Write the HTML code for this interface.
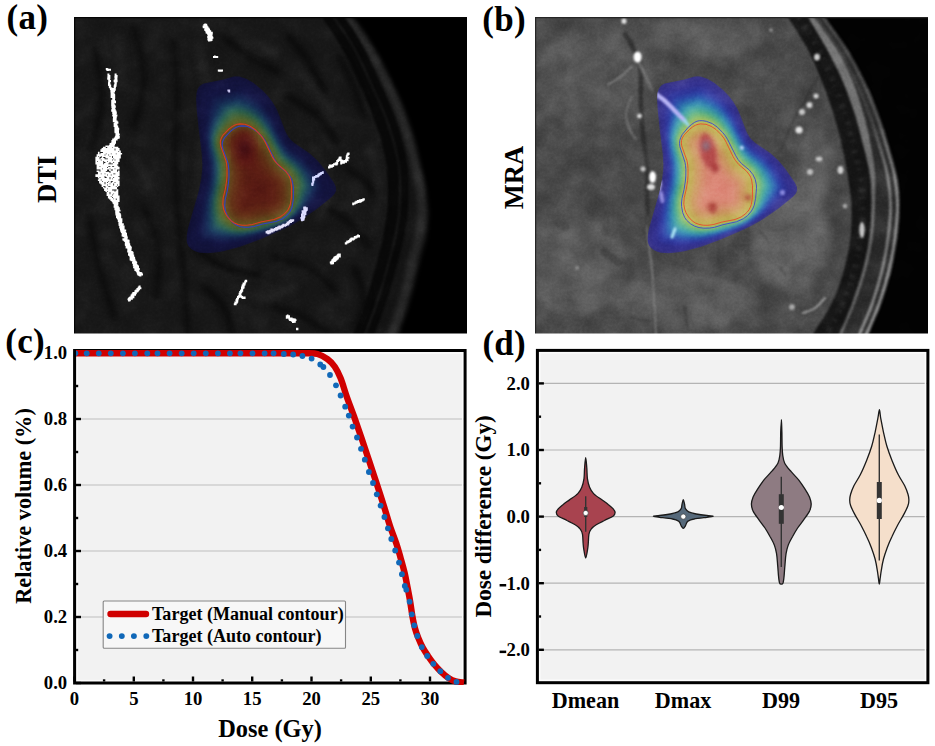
<!DOCTYPE html>
<html><head><meta charset="utf-8"><title>Figure</title>
<style>
html,body{margin:0;padding:0;background:#fff;}
body{width:935px;height:746px;overflow:hidden;position:relative;font-family:"Liberation Serif",serif;}
svg{position:absolute;left:0;top:0;display:block;}
.t{font-family:"Liberation Serif",serif;font-weight:bold;fill:#000;}
</style></head><body>
<svg width="935" height="746" viewBox="0 0 935 746">
<rect width="935" height="746" fill="#fff"/>
<defs>
<filter id="b05" color-interpolation-filters="sRGB" x="-10%" y="-10%" width="120%" height="120%"><feGaussianBlur stdDeviation="0.7"/></filter>
<filter id="b1" color-interpolation-filters="sRGB" x="-10%" y="-10%" width="120%" height="120%"><feGaussianBlur stdDeviation="1.1"/></filter>
<filter id="b2" color-interpolation-filters="sRGB" x="-10%" y="-10%" width="120%" height="120%"><feGaussianBlur stdDeviation="2.2"/></filter>
<filter id="b3" color-interpolation-filters="sRGB" x="-10%" y="-10%" width="120%" height="120%"><feGaussianBlur stdDeviation="3"/></filter>
<filter id="b4" color-interpolation-filters="sRGB" x="-10%" y="-10%" width="120%" height="120%"><feGaussianBlur stdDeviation="4"/></filter>
<filter id="awbl" color-interpolation-filters="sRGB" x="-10%" y="-10%" width="120%" height="120%"><feGaussianBlur stdDeviation="1.6"/></filter>
<filter id="bwbl" color-interpolation-filters="sRGB" x="-10%" y="-10%" width="120%" height="120%"><feGaussianBlur stdDeviation="1.6"/></filter>
<filter id="nzL" color-interpolation-filters="sRGB" x="0" y="0" width="100%" height="100%"><feTurbulence type="fractalNoise" baseFrequency="0.045" numOctaves="3" seed="11"/><feColorMatrix type="matrix" values="1.6 0 0 0 -0.3  1.6 0 0 0 -0.3  1.6 0 0 0 -0.3  0 0 0 0 1"/></filter>
<filter id="nzH" color-interpolation-filters="sRGB" x="0" y="0" width="100%" height="100%"><feTurbulence type="fractalNoise" baseFrequency="0.4" numOctaves="2" seed="5"/><feColorMatrix type="matrix" values="1.5 0 0 0 -0.25  1.5 0 0 0 -0.25  1.5 0 0 0 -0.25  0 0 0 0 1"/></filter>
<clipPath id="imclip"><rect x="0" y="0" width="393" height="316.5"/></clipPath>
</defs>
<g transform="translate(74,17)"><g clip-path="url(#imclip)">
<rect x="-2" y="-2" width="397" height="321" fill="#000"/>
<g filter="url(#b1)">
</g><g filter="url(#b2)">
<path d="M-10.0 -10.0L275.8 -3.0L290.9 21.5L303.7 43.0L316.6 68.7L327.3 92.3L338.0 120.0L347.0 150.0L352.5 175.0L355.0 197.0L352.5 221.0L346.0 243.6L340.0 269.4L333.0 293.5L323.0 322.0L-10.0 330.0Z" fill="#141414"/>
<path d="M271.0 -3.0C273.9 1.1 283.3 13.8 288.4 21.5C293.4 29.2 297.0 35.1 301.3 43.0C305.6 50.9 310.3 60.5 314.2 68.7C318.1 76.9 321.5 83.8 324.9 92.3C328.3 100.8 331.8 110.4 334.6 120.0C337.5 129.6 340.0 140.8 342.0 150.0C344.0 159.2 345.5 167.2 346.5 175.0C347.5 182.8 348.3 189.3 348.0 197.0C347.7 204.7 346.4 213.2 344.8 221.0C343.2 228.8 340.3 235.5 338.3 243.6C336.3 251.7 335.1 261.1 333.0 269.4C330.9 277.7 328.8 284.7 326.0 293.5C323.2 302.3 317.7 317.2 316.0 322.0" fill="none" stroke="#272727" stroke-width="9" />
</g><g filter="url(#b1)">
<path d="M255.5 -3.0C258.3 1.1 267.5 13.8 272.3 21.5C277.1 29.2 280.2 35.1 284.1 43.0C288.0 50.9 292.2 60.5 295.9 68.7C299.6 76.9 303.1 83.8 306.5 92.3C309.9 100.8 313.6 110.4 316.3 120.0C319.1 129.6 321.7 140.8 323.0 150.0C324.3 159.2 324.0 167.2 324.0 175.0C324.0 182.8 323.8 189.3 323.0 197.0C322.2 204.7 320.6 213.2 319.0 221.0C317.4 228.8 315.4 235.5 313.3 243.6C311.2 251.7 308.6 261.1 306.1 269.4C303.6 277.7 301.2 284.7 298.1 293.5C295.0 302.3 289.3 317.2 287.5 322.0" fill="none" stroke="#080808" stroke-width="21" />
<path d="M257.5 -3.0C260.3 1.1 269.5 13.8 274.3 21.5C279.1 29.2 282.2 35.1 286.1 43.0C290.0 50.9 294.2 60.5 297.9 68.7C301.6 76.9 305.1 83.8 308.5 92.3C311.9 100.8 315.6 110.4 318.3 120.0C321.1 129.6 323.7 140.8 325.0 150.0C326.3 159.2 326.0 167.2 326.0 175.0C326.0 182.8 325.8 189.3 325.0 197.0C324.2 204.7 322.6 213.2 321.0 221.0C319.4 228.8 317.4 235.5 315.3 243.6C313.2 251.7 310.6 261.1 308.1 269.4C305.6 277.7 303.2 284.7 300.1 293.5C297.0 302.3 291.3 317.2 289.5 322.0" fill="none" stroke="#161616" stroke-width="2" />
<path d="M-10.0 -10.0L245.5 -3.0L262.3 21.5L274.1 43.0L285.9 68.7L296.5 92.3L306.3 120.0L313.0 150.0L314.0 175.0L313.0 197.0L309.0 221.0L303.3 243.6L296.1 269.4L288.1 293.5L277.5 322.0L-10.0 330.0Z" fill="#181818"/>
</g>
<g filter="url(#b3)" fill="none" stroke="#0a0a0a" stroke-linecap="round">
<path d="M100.0 25.0C100.5 34.2 102.8 60.8 103.0 80.0C103.2 99.2 100.8 120.0 101.0 140.0C101.2 160.0 102.5 180.0 104.0 200.0C105.5 220.0 108.3 240.0 110.0 260.0C111.7 280.0 113.3 310.0 114.0 320.0" stroke-width="5"/>
<path d="M150.0 20.0C154.2 23.3 165.8 34.2 175.0 40.0C184.2 45.8 200.0 52.5 205.0 55.0" stroke-width="6"/>
<path d="M215.0 20.0C218.3 24.2 229.2 35.8 235.0 45.0C240.8 54.2 247.5 70.0 250.0 75.0" stroke-width="7"/>
<path d="M215.0 80.0C220.0 83.3 237.2 92.5 245.0 100.0C252.8 107.5 259.2 120.8 262.0 125.0" stroke-width="7"/>
<path d="M265.0 40.0C267.5 45.0 275.8 60.0 280.0 70.0C284.2 80.0 288.3 95.0 290.0 100.0" stroke-width="6"/>
<path d="M60.0 10.0C61.7 18.3 70.0 43.3 70.0 60.0C70.0 76.7 61.7 101.7 60.0 110.0" stroke-width="5"/>
<path d="M20.0 30.0C21.3 38.3 28.3 63.3 28.0 80.0C27.7 96.7 19.7 121.7 18.0 130.0" stroke-width="5"/>
<path d="M120.0 230.0C125.0 233.3 139.2 245.3 150.0 250.0C160.8 254.7 179.2 256.7 185.0 258.0" stroke-width="6"/>
<path d="M200.0 240.0C205.8 241.7 224.7 244.2 235.0 250.0C245.3 255.8 257.5 270.8 262.0 275.0" stroke-width="6"/>
<path d="M250.0 190.0C254.2 192.5 267.5 198.3 275.0 205.0C282.5 211.7 291.7 225.8 295.0 230.0" stroke-width="6"/>
<path d="M270.0 150.0C273.7 152.5 285.7 158.3 292.0 165.0C298.3 171.7 305.3 185.8 308.0 190.0" stroke-width="6"/>
<path d="M130.0 270.0C133.3 273.3 145.3 282.2 150.0 290.0C154.7 297.8 156.7 312.5 158.0 317.0" stroke-width="6"/>
<path d="M15.0 200.0C16.7 208.3 20.8 233.3 25.0 250.0C29.2 266.7 37.5 291.7 40.0 300.0" stroke-width="5"/>
<path d="M70.0 190.0C72.5 196.7 83.0 215.0 85.0 230.0C87.0 245.0 82.5 271.7 82.0 280.0" stroke-width="5"/>
<path d="M200.0 290.0C205.0 291.7 220.8 295.5 230.0 300.0C239.2 304.5 250.8 314.2 255.0 317.0" stroke-width="6"/>
<path d="M280.0 250.0C281.7 255.0 290.0 270.0 290.0 280.0C290.0 290.0 281.7 305.0 280.0 310.0" stroke-width="6"/>
</g>
<g filter="url(#b3)" fill="none" stroke="#202020" stroke-linecap="round">
<path d="M125.0 30.0C126.7 40.0 135.0 70.0 135.0 90.0C135.0 110.0 126.2 130.0 125.0 150.0C123.8 170.0 127.5 200.0 128.0 210.0" stroke-width="8"/>
<path d="M180.0 25.0C183.3 26.7 196.7 33.3 200.0 35.0" stroke-width="8"/>
<path d="M60.0 140.0C62.5 145.0 72.5 165.0 75.0 170.0" stroke-width="8"/>
<path d="M240.0 130.0C242.5 136.7 254.2 158.3 255.0 170.0C255.8 181.7 246.7 195.0 245.0 200.0" stroke-width="8"/>
<path d="M160.0 270.0C165.0 271.7 180.0 280.0 190.0 280.0C200.0 280.0 215.0 271.7 220.0 270.0" stroke-width="8"/>
<path d="M45.0 20.0C45.5 28.3 47.5 61.7 48.0 70.0" stroke-width="7"/>
<path d="M230.0 60.0C234.2 65.0 250.8 85.0 255.0 90.0" stroke-width="6"/>
<path d="M295.0 130.0C296.7 136.7 304.2 155.8 305.0 170.0C305.8 184.2 300.8 207.5 300.0 215.0" stroke-width="6"/>
</g>
<clipPath id="awclip"><path d="M133.2 236.3L125.5 235.7L121.6 234.5L118.6 233.0L116.0 231.0L114.3 229.0L113.1 226.2L112.6 223.5L112.7 218.8L113.7 212.2L124.9 173.0L127.1 161.8L128.0 153.5L128.3 147.2L127.6 137.0L124.5 111.6L122.5 91.5L122.0 82.2L122.5 75.8L123.5 72.2L124.8 70.0L126.8 68.0L129.6 66.5L149.2 62.4L159.4 59.5L162.5 59.2L165.5 59.4L172.4 61.8L179.3 65.8L188.2 73.0L194.2 79.3L198.2 84.5L202.3 91.2L204.8 96.8L211.8 115.0L214.8 120.2L217.2 123.1L220.2 125.7L235.3 136.0L243.5 143.4L250.8 152.3L260.0 165.8L261.9 169.8L262.2 173.5L260.9 176.5L257.8 180.0L243.0 192.0L226.5 203.3L217.2 208.6L209.2 212.6L185.5 222.8L165.8 229.9L149.6 234.2L142.2 235.5L133.2 236.3Z"/></clipPath>
<g clip-path="url(#awclip)"><g filter="url(#awbl)">
<path d="M134.8 237.5L126.0 237.3L119.0 235.0L113.2 230.2L111.2 225.2L111.2 218.8L112.2 212.2L123.4 175.2L127.2 154.0L126.9 137.0L121.2 92.0L121.0 75.5L123.7 68.8L129.8 64.7L148.8 61.2L158.0 58.2L165.8 58.0L172.0 60.0L180.0 64.5L188.5 71.5L195.3 78.5L200.0 85.0L204.0 92.2L212.3 114.2L215.1 119.2L222.0 125.9L238.5 137.0L246.3 144.8L261.3 165.0L263.5 170.0L263.5 174.8L262.3 177.2L258.2 181.5L248.2 189.5L228.0 203.3L216.2 209.8L191.8 221.1L172.0 228.8L150.5 235.3L134.8 237.5Z" fill="#12123a"/>
<path d="M139.2 232.5L130.0 232.3L123.0 230.3L118.5 226.9L117.4 224.8L116.9 222.2L117.2 214.5L118.4 207.2L127.9 169.8L130.1 154.2L130.2 146.2L127.3 119.8L126.1 101.5L126.4 80.2L128.1 74.0L129.5 72.2L131.2 71.2L160.0 64.0L164.5 63.8L171.2 65.8L178.0 69.5L186.8 76.2L192.8 82.2L196.5 87.0L200.4 93.2L210.1 116.0L213.3 121.5L216.2 125.0L220.0 128.4L233.4 137.8L240.9 144.8L247.0 152.5L252.4 160.8L257.2 169.0L257.9 172.8L257.0 175.0L254.1 178.5L241.1 190.5L226.6 201.5L214.3 208.8L205.5 213.0L186.2 221.0L171.2 226.3L151.5 231.3L139.2 232.5Z" fill="#13143f"/>
<path d="M147.8 227.8L139.2 227.7L129.5 226.4L124.5 224.1L123.4 222.8L122.8 220.8L122.8 213.5L124.2 201.5L131.4 168.2L133.1 155.0L133.2 147.5L129.8 118.8L130.1 102.0L131.1 91.8L132.7 81.0L133.5 78.5L134.8 77.0L138.7 75.5L159.5 70.2L163.8 69.7L169.9 71.5L177.5 75.5L185.3 81.2L191.6 87.5L198.6 97.8L207.9 117.8L211.4 123.8L218.0 131.1L230.8 140.4L237.5 147.0L242.9 154.2L246.9 161.0L251.1 169.2L251.7 171.8L250.6 174.2L244.6 181.5L234.4 192.2L224.7 200.5L214.2 207.2L201.8 213.1L176.0 222.5L163.0 225.8L147.8 227.8Z" fill="#131542"/>
<path d="M151.2 224.3L142.0 223.8L132.2 221.9L129.0 220.5L127.8 218.0L127.5 208.8L128.3 198.2L130.5 184.2L134.2 167.5L135.8 154.8L135.7 147.5L132.4 125.0L132.1 119.0L132.5 111.0L135.7 91.5L138.7 81.8L140.5 80.5L145.2 79.0L159.8 75.2L163.5 74.8L168.8 76.2L176.2 79.9L183.8 85.1L190.0 91.0L196.5 100.2L206.5 120.2L210.5 126.8L216.1 133.2L228.5 142.6L234.8 149.0L241.6 159.5L245.4 167.5L246.3 171.0L245.6 173.0L240.9 180.0L230.9 192.2L222.9 199.8L213.4 206.2L201.8 211.7L177.2 220.2L164.0 223.2L151.2 224.3Z" fill="#151e4b"/>
<path d="M161.8 221.5L147.0 221.3L140.2 220.0L133.2 217.8L132.0 216.5L131.5 214.8L130.9 203.0L131.9 189.5L136.2 168.2L137.8 156.0L137.8 147.8L134.5 129.8L133.9 120.8L134.9 110.2L137.3 99.8L140.7 88.8L143.0 84.4L151.2 81.4L162.8 78.9L169.0 80.4L177.5 84.6L184.5 89.7L189.8 95.0L196.5 104.9L205.4 122.2L209.8 129.3L214.6 135.0L226.5 144.2L232.3 150.2L238.2 159.8L241.5 167.0L242.2 170.0L241.4 172.8L237.2 180.0L229.4 191.0L222.3 198.5L214.3 204.5L203.5 209.9L182.0 217.3L170.0 220.4L161.8 221.5Z" fill="#162853"/>
<path d="M161.8 219.5L155.5 219.3L148.0 218.4L141.2 216.5L136.6 214.5L135.6 213.2L135.0 211.2L133.9 198.2L134.8 185.5L138.4 168.0L139.9 155.2L139.7 147.0L136.7 132.5L135.8 126.0L135.8 118.8L137.3 110.2L141.7 97.2L146.1 88.0L147.9 86.8L151.8 85.4L162.5 82.9L168.5 84.3L176.5 87.9L183.5 92.8L188.8 98.0L196.5 109.3L204.7 125.0L210.0 133.2L214.0 137.5L225.4 146.5L231.0 153.0L235.6 161.5L238.3 169.5L237.6 172.2L233.6 180.2L227.1 190.8L221.1 197.8L213.4 203.8L202.8 209.0L181.2 216.1L169.8 218.7L161.8 219.5Z" fill="#193b5c"/>
<path d="M163.0 217.5L157.0 217.1L150.2 215.8L144.8 214.0L139.8 211.5L138.6 209.5L137.6 205.0L136.6 194.0L137.3 184.2L141.1 165.0L142.1 154.5L141.7 146.5L137.6 127.8L137.4 121.0L138.2 115.9L139.9 110.0L143.8 101.2L149.2 91.5L153.0 89.1L162.2 87.0L168.0 88.2L175.8 91.3L182.2 95.6L187.8 100.9L195.4 111.5L203.6 127.0L208.8 135.2L212.5 139.2L222.5 147.2L228.2 153.8L232.4 162.0L234.5 169.2L233.9 172.0L229.6 182.2L224.9 190.8L219.7 197.2L212.6 203.0L202.2 208.1L180.8 214.8L171.0 216.8L163.0 217.5Z" fill="#204d5b"/>
<path d="M168.2 215.5L161.5 215.5L155.2 214.4L149.6 212.5L143.4 209.2L142.1 207.8L141.1 205.2L139.2 194.0L139.5 184.0L143.4 164.2L144.2 153.5L143.6 146.0L139.3 128.5L139.1 123.5L139.5 119.0L142.8 109.9L146.8 102.5L151.2 96.0L154.9 92.8L161.5 91.1L167.8 92.0L174.8 94.5L181.5 98.7L186.8 103.8L194.0 113.2L207.3 137.0L210.8 140.8L220.0 148.2L225.2 154.3L228.9 161.2L230.9 168.5L230.5 171.2L227.1 181.5L223.4 189.8L218.8 196.2L213.0 201.4L207.2 204.8L200.2 207.7L179.2 213.8L168.2 215.5Z" fill="#2a6050"/>
<path d="M169.2 213.8L163.0 213.6L157.2 212.5L152.2 210.5L146.2 206.8L144.6 204.8L143.2 200.8L141.6 191.5L141.8 183.2L145.5 164.0L146.2 153.0L145.6 145.5L141.0 128.8L141.1 120.5L143.7 113.2L150.0 103.7L156.2 97.0L158.5 95.7L161.2 95.2L167.5 95.8L174.0 97.8L180.5 101.5L186.0 106.6L193.6 116.5L205.9 138.8L209.3 142.5L217.9 149.5L222.7 155.2L225.7 161.2L227.5 168.0L224.6 181.5L221.7 189.2L217.7 195.5L212.4 200.5L207.2 203.7L200.2 206.5L190.5 208.8L179.0 212.4L169.2 213.8Z" fill="#3d643f"/>
<path d="M171.2 212.0L165.2 212.0L159.5 210.8L154.5 208.7L149.4 205.0L147.4 202.8L145.5 198.5L143.8 189.5L144.4 180.5L147.8 163.0L148.3 152.5L147.5 145.0L142.7 128.8L142.7 121.5L145.2 115.1L151.2 107.0L157.5 101.2L160.0 99.8L162.5 99.2L168.5 99.6L174.8 101.6L180.2 104.8L186.2 110.4L192.7 118.8L204.2 140.3L207.8 144.2L216.0 151.0L220.0 156.0L222.7 161.5L224.1 167.5L222.3 181.0L220.1 188.5L216.8 194.5L212.2 199.2L207.8 202.3L200.5 205.3L190.0 207.6L179.0 211.0L171.2 212.0Z" fill="#4f6530"/>
<path d="M179.0 209.5L168.2 210.4L163.5 209.8L159.0 208.3L155.0 206.0L150.9 202.2L149.1 199.5L147.2 194.8L146.1 188.8L146.5 180.5L149.9 163.2L150.4 152.0L149.5 144.5L144.4 129.0L144.3 122.5L146.9 116.5L152.8 109.5L158.8 104.7L164.0 102.9L170.8 103.5L176.8 105.8L182.0 109.5L187.4 115.0L192.0 121.5L202.6 141.8L206.0 145.7L214.0 152.4L217.4 156.8L219.7 161.5L220.9 167.0L220.1 180.5L218.7 187.5L216.0 193.2L212.1 197.8L207.8 201.0L200.9 204.0L187.5 206.9L179.0 209.5Z" fill="#616125"/>
<path d="M171.5 208.8L167.2 208.6L163.0 207.7L159.2 206.0L156.5 204.0L152.9 200.2L150.4 196.0L149.1 192.2L148.2 187.2L148.7 180.8L152.0 163.8L152.4 151.5L151.4 143.8L146.2 129.0L146.0 123.2L148.6 117.8L154.5 111.5L160.2 107.5L165.8 106.2L171.0 106.6L176.5 108.7L181.5 112.2L186.8 117.4L191.5 124.8L200.9 143.2L204.2 147.2L212.2 154.0L215.1 157.8L217.3 163.0L218.2 169.0L218.0 181.0L216.7 187.8L214.2 193.2L210.0 197.8L205.9 200.5L199.7 203.0L187.2 205.4L178.2 208.1L171.5 208.8Z" fill="#64551f"/>
<path d="M174.8 206.5L170.0 206.7L165.8 206.1L162.2 204.9L159.0 203.0L155.4 199.2L152.9 195.2L151.6 192.0L150.6 187.2L151.0 181.2L154.4 164.0L154.7 151.0L153.6 143.2L148.3 128.5L148.1 124.0L150.3 119.2L155.4 114.0L160.8 110.3L165.5 109.0L170.2 109.2L175.4 111.0L180.0 114.1L184.8 118.8L189.8 126.2L199.1 144.8L202.2 148.6L210.3 155.5L212.8 158.7L214.5 162.8L215.5 167.8L215.7 180.0L214.9 186.5L212.9 191.5L209.5 195.8L205.8 198.5L200.0 201.0L189.2 202.9L174.8 206.5Z" fill="#64481d"/>
<path d="M173.5 203.8L166.2 203.2L163.2 202.2L160.6 200.5L157.6 197.2L155.4 193.8L153.5 186.8L153.9 181.5L157.2 164.5L157.6 150.5L156.6 143.2L151.4 129.0L151.0 124.8L152.8 120.8L157.2 116.2L162.0 113.0L166.0 111.9L170.0 112.2L174.3 113.8L178.5 116.6L182.9 121.0L187.3 127.8L196.7 146.5L199.8 150.2L207.8 157.2L210.3 160.2L211.9 164.2L212.7 169.5L212.9 180.0L212.0 186.2L210.2 190.5L207.0 194.2L203.6 196.5L198.8 198.4L189.0 200.1L178.0 203.1L173.5 203.8Z" fill="#653c1a"/>
<path d="M173.5 200.5L167.2 200.1L162.7 198.0L158.4 192.5L156.8 186.8L157.0 182.2L160.4 164.8L160.8 150.2L159.7 142.2L154.8 128.8L154.3 125.5L155.5 122.6L159.2 118.8L163.0 116.1L166.2 115.2L169.5 115.4L173.2 116.9L177.0 119.6L180.6 123.2L184.6 129.5L194.0 148.2L197.4 152.5L205.2 159.3L207.3 161.8L208.8 165.0L209.5 169.5L209.6 179.2L209.0 184.8L207.6 188.5L204.9 191.8L201.9 193.8L197.8 195.3L188.2 196.9L173.5 200.5Z" fill="#642f17"/>
<path d="M174.5 195.5L169.8 195.6L166.2 194.4L163.2 191.0L161.7 186.8L161.9 183.0L163.8 174.5L165.3 165.0L165.6 150.0L164.5 141.2L159.6 126.5L160.2 124.8L162.1 122.8L164.8 120.8L166.8 120.2L169.0 120.4L171.5 121.6L177.0 126.6L180.7 132.5L189.2 149.9L193.8 155.7L202.7 163.8L203.9 166.0L204.6 169.2L204.5 182.0L203.6 185.5L201.7 188.0L196.2 190.7L187.0 192.2L174.5 195.5Z" fill="#602415"/>
<path d="M173.0 190.8L170.5 190.7L168.8 190.0L167.2 188.1L166.6 185.8L169.8 168.0L170.5 159.8L170.5 149.5L169.9 143.2L165.3 128.2L165.8 126.5L167.5 125.6L170.2 126.7L173.7 130.2L185.2 152.5L190.0 158.8L198.5 166.5L199.4 168.2L199.8 170.8L199.8 180.8L199.1 183.2L197.8 184.8L194.5 186.1L186.2 187.4L173.0 190.8Z" fill="#5c1e14"/>
<path d="M175.2 185.3L172.8 185.2L172.0 183.5L174.8 167.2L175.6 152.0L176.5 149.2L178.0 150.4L185.8 161.4L194.1 169.2L195.0 171.8L195.1 177.2L194.6 180.0L193.0 181.3L181.5 183.5L175.2 185.3Z" fill="#5a1c13"/>
<path d="M179.8 179.8L177.8 179.4L177.3 177.5L179.2 164.5L179.8 163.0L180.5 162.5L182.0 163.3L190.0 170.8L191.0 172.5L191.2 174.8L190.8 176.7L189.6 177.8L179.8 179.8Z" fill="#581a13"/>
<path d="M183.8 175.5L182.0 175.3L181.3 174.0L181.8 171.0L183.0 169.8L185.3 171.0L187.0 173.2L186.3 174.8L183.8 175.5Z" fill="#561812"/>
</g></g>
<g clip-path="url(#awclip)"><g filter="url(#b4)">
<ellipse cx="170.6" cy="131" rx="11" ry="19" fill="#5c1414" opacity="0.75"/>
<ellipse cx="170.6" cy="131.6" rx="5" ry="9" fill="#360a10"/>
</g></g>
<rect x="0" y="0" width="393" height="317" filter="url(#nzL)" style="mix-blend-mode:soft-light" opacity="0.13"/>
<rect x="0" y="0" width="393" height="317" filter="url(#nzH)" style="mix-blend-mode:soft-light" opacity="0.06"/>
<path d="M172.8 208.3L168.2 208.2L164.0 207.4L160.4 206.0L157.2 203.9L153.6 200.0L151.0 195.8L149.7 192.2L148.8 187.2L149.2 180.8L151.3 172.2L152.6 163.8L153.0 158.8L153.0 151.5L152.6 147.0L152.0 143.8L146.7 128.8L146.3 126.0L146.5 123.4L147.3 121.0L149.0 118.1L154.8 112.1L158.0 109.6L160.5 108.2L163.0 107.3L165.8 106.9L171.0 107.3L176.2 109.3L181.0 112.5L186.3 117.8L188.8 121.1L191.2 125.2L198.2 139.8L200.5 143.6L203.8 147.5L211.6 154.2L214.5 158.0L215.7 160.2L216.6 163.0L217.5 168.8L217.4 180.8L216.3 187.5L215.4 190.0L214.0 192.8L212.3 195.0L210.0 197.2L206.1 200.0L200.0 202.5L186.8 205.1L178.2 207.6L172.8 208.3Z" fill="none" stroke="#3040c8" stroke-width="1.05" transform="translate(1.9,2.0)"/>
<path d="M172.8 208.3L168.2 208.2L164.0 207.4L160.4 206.0L157.2 203.9L153.6 200.0L151.0 195.8L149.7 192.2L148.8 187.2L149.2 180.8L151.3 172.2L152.6 163.8L153.0 158.8L153.0 151.5L152.6 147.0L152.0 143.8L146.7 128.8L146.3 126.0L146.5 123.4L147.3 121.0L149.0 118.1L154.8 112.1L158.0 109.6L160.5 108.2L163.0 107.3L165.8 106.9L171.0 107.3L176.2 109.3L181.0 112.5L186.3 117.8L188.8 121.1L191.2 125.2L198.2 139.8L200.5 143.6L203.8 147.5L211.6 154.2L214.5 158.0L215.7 160.2L216.6 163.0L217.5 168.8L217.4 180.8L216.3 187.5L215.4 190.0L214.0 192.8L212.3 195.0L210.0 197.2L206.1 200.0L200.0 202.5L186.8 205.1L178.2 207.6L172.8 208.3Z" fill="none" stroke="#dc3c1e" stroke-width="1.05"/>
<g filter="url(#b05)">
<path d="M129.4 7.0h2.0v2.0h-2.0zM129.6 7.2h1.7v1.7h-1.7zM130.3 6.4h1.7v1.7h-1.7zM129.6 7.2h1.7v1.7h-1.7zM128.6 8.6h2.0v2.0h-2.0zM130.8 6.8h2.4v2.4h-2.4zM129.4 7.8h2.0v2.0h-2.0zM130.8 6.8h2.4v2.4h-2.4zM131.2 8.0h1.7v1.7h-1.7zM128.8 9.6h1.7v1.7h-1.7zM129.2 8.4h2.4v2.4h-2.4zM131.0 7.8h2.0v2.0h-2.0zM131.8 8.6h2.0v2.0h-2.0zM131.0 9.4h2.0v2.0h-2.0zM130.2 9.4h2.0v2.0h-2.0zM130.2 9.4h2.0v2.0h-2.0zM132.6 9.4h2.0v2.0h-2.0zM131.2 10.3h1.7v1.7h-1.7zM131.0 10.2h2.0v2.0h-2.0zM130.8 10.0h2.4v2.4h-2.4zM130.8 11.6h2.4v2.4h-2.4zM130.8 10.8h2.4v2.4h-2.4zM131.8 11.0h2.0v2.0h-2.0zM130.2 11.8h2.0v2.0h-2.0zM133.4 11.0h2.0v2.0h-2.0zM131.8 11.8h2.0v2.0h-2.0zM131.0 12.6h2.0v2.0h-2.0zM132.0 12.8h1.7v1.7h-1.7zM133.2 10.8h2.4v2.4h-2.4zM132.6 11.0h2.0v2.0h-2.0zM133.2 10.8h2.4v2.4h-2.4zM132.8 12.0h1.7v1.7h-1.7zM131.8 13.4h2.0v2.0h-2.0zM133.4 12.6h2.0v2.0h-2.0zM132.4 13.2h2.4v2.4h-2.4zM134.3 12.0h1.7v1.7h-1.7zM131.6 14.0h2.4v2.4h-2.4zM132.8 14.3h1.7v1.7h-1.7zM134.2 12.6h2.0v2.0h-2.0zM132.4 14.0h2.4v2.4h-2.4zM134.0 14.0h2.4v2.4h-2.4zM132.6 15.0h2.0v2.0h-2.0zM134.8 13.2h2.4v2.4h-2.4zM134.3 14.3h1.7v1.7h-1.7zM134.2 15.0h2.0v2.0h-2.0zM133.4 15.8h2.0v2.0h-2.0zM133.2 15.6h2.4v2.4h-2.4zM134.8 14.8h2.4v2.4h-2.4zM136.4 14.8h2.4v2.4h-2.4zM135.0 15.8h2.0v2.0h-2.0zM134.0 16.4h2.4v2.4h-2.4zM134.2 16.6h2.0v2.0h-2.0zM134.2 15.8h2.0v2.0h-2.0zM134.0 15.6h2.4v2.4h-2.4zM133.4 15.8h2.0v2.0h-2.0zM136.6 15.8h2.0v2.0h-2.0zM135.8 16.6h2.0v2.0h-2.0zM136.6 16.6h2.0v2.0h-2.0zM136.0 16.8h1.7v1.7h-1.7zM136.6 16.6h2.0v2.0h-2.0zM135.0 18.2h2.0v2.0h-2.0zM133.6 18.3h1.7v1.7h-1.7zM134.8 18.0h2.4v2.4h-2.4zM135.6 18.0h2.4v2.4h-2.4zM136.4 18.8h2.4v2.4h-2.4zM136.8 19.1h1.7v1.7h-1.7zM133.2 18.8h2.4v2.4h-2.4zM136.6 19.0h2.0v2.0h-2.0zM135.2 19.9h1.7v1.7h-1.7zM137.4 19.8h2.0v2.0h-2.0zM135.0 19.8h2.0v2.0h-2.0zM135.2 19.9h1.7v1.7h-1.7zM134.0 21.2h2.4v2.4h-2.4zM136.6 20.6h2.0v2.0h-2.0zM133.4 21.4h2.0v2.0h-2.0zM136.0 20.8h1.7v1.7h-1.7zM134.0 22.0h2.4v2.4h-2.4zM135.8 22.2h2.0v2.0h-2.0zM136.8 22.3h1.7v1.7h-1.7zM135.0 22.2h2.0v2.0h-2.0zM139.0 39.0h2.0v2.0h-2.0zM139.0 39.0h2.0v2.0h-2.0zM139.8 39.0h2.0v2.0h-2.0zM140.0 38.4h1.7v1.7h-1.7zM141.4 39.0h2.0v2.0h-2.0zM141.6 39.1h1.7v1.7h-1.7zM142.2 39.0h2.0v2.0h-2.0zM142.2 39.0h2.0v2.0h-2.0zM143.8 52.6h2.0v2.0h-2.0zM143.8 52.6h2.0v2.0h-2.0zM144.6 52.6h2.0v2.0h-2.0zM144.4 52.4h2.4v2.4h-2.4zM146.2 52.6h2.0v2.0h-2.0zM146.0 52.4h2.4v2.4h-2.4zM147.2 52.8h1.7v1.7h-1.7zM147.0 52.6h2.0v2.0h-2.0zM31.9 51.1h1.7v1.7h-1.7zM31.8 51.0h2.0v2.0h-2.0zM32.4 51.6h2.4v2.4h-2.4zM32.8 51.9h1.7v1.7h-1.7zM34.2 51.8h2.0v2.0h-2.0zM34.4 51.9h1.7v1.7h-1.7zM35.1 51.9h1.7v1.7h-1.7zM35.0 51.8h2.0v2.0h-2.0zM33.4 56.6h2.0v2.0h-2.0zM33.4 56.6h2.0v2.0h-2.0zM34.0 58.0h2.4v2.4h-2.4zM33.5 58.4h1.7v1.7h-1.7zM33.4 59.0h2.0v2.0h-2.0zM33.5 59.1h1.7v1.7h-1.7zM34.0 59.6h2.4v2.4h-2.4zM33.4 59.8h2.0v2.0h-2.0zM33.2 60.4h2.4v2.4h-2.4zM33.4 60.6h2.0v2.0h-2.0zM34.2 61.4h2.0v2.0h-2.0zM34.4 61.5h1.7v1.7h-1.7zM34.2 62.2h2.0v2.0h-2.0zM34.2 62.2h2.0v2.0h-2.0zM34.2 63.0h2.0v2.0h-2.0zM35.0 63.0h2.0v2.0h-2.0zM34.2 64.6h2.0v2.0h-2.0zM34.2 64.6h2.0v2.0h-2.0zM34.0 65.2h2.4v2.4h-2.4zM34.4 65.6h1.7v1.7h-1.7zM34.2 66.2h2.0v2.0h-2.0zM34.0 66.0h2.4v2.4h-2.4zM34.2 67.0h2.0v2.0h-2.0zM34.4 67.2h1.7v1.7h-1.7zM34.2 67.0h2.0v2.0h-2.0zM34.2 67.0h2.0v2.0h-2.0zM34.8 67.6h2.4v2.4h-2.4zM35.1 68.0h1.7v1.7h-1.7zM35.0 68.6h2.0v2.0h-2.0zM34.8 68.4h2.4v2.4h-2.4zM35.1 69.6h1.7v1.7h-1.7zM35.1 69.6h1.7v1.7h-1.7zM35.8 70.2h2.0v2.0h-2.0zM36.8 70.4h1.7v1.7h-1.7zM36.8 71.2h1.7v1.7h-1.7zM35.9 71.2h1.7v1.7h-1.7zM36.6 71.8h2.0v2.0h-2.0zM36.4 72.4h2.4v2.4h-2.4zM36.4 73.2h2.4v2.4h-2.4zM36.6 73.4h2.0v2.0h-2.0zM40.6 56.6h2.0v2.0h-2.0zM40.6 56.6h2.0v2.0h-2.0zM40.6 58.2h2.0v2.0h-2.0zM41.2 58.0h2.4v2.4h-2.4zM40.8 59.1h1.7v1.7h-1.7zM40.4 58.8h2.4v2.4h-2.4zM41.4 59.8h2.0v2.0h-2.0zM40.6 59.8h2.0v2.0h-2.0zM40.6 60.6h2.0v2.0h-2.0zM41.4 60.6h2.0v2.0h-2.0zM40.6 61.4h2.0v2.0h-2.0zM40.8 61.5h1.7v1.7h-1.7zM40.4 62.0h2.4v2.4h-2.4zM41.4 62.2h2.0v2.0h-2.0zM41.2 62.8h2.4v2.4h-2.4zM39.6 62.8h2.4v2.4h-2.4zM40.6 64.6h2.0v2.0h-2.0zM40.8 64.8h1.7v1.7h-1.7zM40.8 65.6h1.7v1.7h-1.7zM40.4 65.2h2.4v2.4h-2.4zM40.8 66.4h1.7v1.7h-1.7zM40.6 66.2h2.0v2.0h-2.0zM40.8 67.2h1.7v1.7h-1.7zM40.6 67.0h2.0v2.0h-2.0zM39.9 67.2h1.7v1.7h-1.7zM40.6 67.0h2.0v2.0h-2.0zM40.6 67.8h2.0v2.0h-2.0zM40.6 67.8h2.0v2.0h-2.0zM39.8 68.6h2.0v2.0h-2.0zM39.6 68.4h2.4v2.4h-2.4zM39.9 69.6h1.7v1.7h-1.7zM39.8 69.4h2.0v2.0h-2.0zM39.9 70.4h1.7v1.7h-1.7zM39.9 70.4h1.7v1.7h-1.7zM39.0 71.0h2.0v2.0h-2.0zM39.8 71.8h2.0v2.0h-2.0zM39.1 72.8h1.7v1.7h-1.7zM39.0 71.8h2.0v2.0h-2.0zM38.0 72.4h2.4v2.4h-2.4zM38.2 72.6h2.0v2.0h-2.0zM37.5 71.2h1.7v1.7h-1.7zM37.4 71.0h2.0v2.0h-2.0zM36.6 71.0h2.0v2.0h-2.0zM38.2 71.8h2.0v2.0h-2.0zM38.2 71.8h2.0v2.0h-2.0zM37.4 71.8h2.0v2.0h-2.0zM38.2 72.6h2.0v2.0h-2.0zM38.4 72.8h1.7v1.7h-1.7zM36.8 72.8h1.7v1.7h-1.7zM39.0 73.4h2.0v2.0h-2.0zM37.4 73.4h2.0v2.0h-2.0zM36.8 73.6h1.7v1.7h-1.7zM37.2 74.8h2.4v2.4h-2.4zM37.2 74.8h2.4v2.4h-2.4zM36.6 75.0h2.0v2.0h-2.0zM37.4 75.8h2.0v2.0h-2.0zM38.2 75.8h2.0v2.0h-2.0zM38.2 75.8h2.0v2.0h-2.0zM36.6 76.6h2.0v2.0h-2.0zM39.0 76.6h2.0v2.0h-2.0zM38.4 76.8h1.7v1.7h-1.7zM38.8 77.2h2.4v2.4h-2.4zM36.6 77.4h2.0v2.0h-2.0zM37.4 77.4h2.0v2.0h-2.0zM39.0 78.2h2.0v2.0h-2.0zM38.8 78.0h2.4v2.4h-2.4zM39.0 78.2h2.0v2.0h-2.0zM36.6 79.0h2.0v2.0h-2.0zM39.0 79.0h2.0v2.0h-2.0zM39.0 79.0h2.0v2.0h-2.0zM38.8 79.6h2.4v2.4h-2.4zM39.0 79.8h2.0v2.0h-2.0zM38.2 79.8h2.0v2.0h-2.0zM39.1 80.8h1.7v1.7h-1.7zM39.1 80.8h1.7v1.7h-1.7zM39.1 80.8h1.7v1.7h-1.7zM38.2 81.4h2.0v2.0h-2.0zM39.0 81.4h2.0v2.0h-2.0zM39.0 81.4h2.0v2.0h-2.0zM37.2 82.8h2.4v2.4h-2.4zM37.2 82.8h2.4v2.4h-2.4zM39.0 83.0h2.0v2.0h-2.0zM39.6 83.6h2.4v2.4h-2.4zM37.4 83.8h2.0v2.0h-2.0zM37.5 84.0h1.7v1.7h-1.7zM37.4 84.6h2.0v2.0h-2.0zM39.9 84.8h1.7v1.7h-1.7zM39.0 84.6h2.0v2.0h-2.0zM37.2 85.2h2.4v2.4h-2.4zM37.5 85.6h1.7v1.7h-1.7zM38.2 85.4h2.0v2.0h-2.0zM38.4 86.4h1.7v1.7h-1.7zM38.4 86.4h1.7v1.7h-1.7zM37.5 86.4h1.7v1.7h-1.7zM38.4 87.2h1.7v1.7h-1.7zM37.2 86.8h2.4v2.4h-2.4zM39.1 87.2h1.7v1.7h-1.7zM37.4 87.8h2.0v2.0h-2.0zM38.2 87.8h2.0v2.0h-2.0zM38.8 87.6h2.4v2.4h-2.4zM38.0 88.4h2.4v2.4h-2.4zM39.8 88.6h2.0v2.0h-2.0zM37.4 89.4h2.0v2.0h-2.0zM39.8 88.6h2.0v2.0h-2.0zM39.0 88.6h2.0v2.0h-2.0zM38.2 89.4h2.0v2.0h-2.0zM39.9 89.6h1.7v1.7h-1.7zM39.1 90.4h1.7v1.7h-1.7zM38.0 90.0h2.4v2.4h-2.4zM39.0 91.0h2.0v2.0h-2.0zM38.8 90.8h2.4v2.4h-2.4zM38.2 91.0h2.0v2.0h-2.0zM39.1 92.0h1.7v1.7h-1.7zM37.5 92.0h1.7v1.7h-1.7zM39.9 92.0h1.7v1.7h-1.7zM38.0 92.4h2.4v2.4h-2.4zM37.2 92.4h2.4v2.4h-2.4zM39.8 92.6h2.0v2.0h-2.0zM40.8 93.6h1.7v1.7h-1.7zM39.8 93.4h2.0v2.0h-2.0zM38.2 94.2h2.0v2.0h-2.0zM39.0 95.0h2.0v2.0h-2.0zM38.2 95.0h2.0v2.0h-2.0zM39.6 94.0h2.4v2.4h-2.4zM39.8 95.8h2.0v2.0h-2.0zM40.4 94.8h2.4v2.4h-2.4zM38.8 95.6h2.4v2.4h-2.4zM39.8 96.6h2.0v2.0h-2.0zM39.6 96.4h2.4v2.4h-2.4zM39.8 96.6h2.0v2.0h-2.0zM41.4 97.4h2.0v2.0h-2.0zM39.1 97.6h1.7v1.7h-1.7zM38.2 97.4h2.0v2.0h-2.0zM39.0 98.2h2.0v2.0h-2.0zM40.8 98.4h1.7v1.7h-1.7zM39.9 98.4h1.7v1.7h-1.7zM40.4 98.8h2.4v2.4h-2.4zM39.1 100.0h1.7v1.7h-1.7zM40.8 99.2h1.7v1.7h-1.7zM39.0 100.6h2.0v2.0h-2.0zM39.8 100.6h2.0v2.0h-2.0zM40.6 99.8h2.0v2.0h-2.0zM40.6 101.4h2.0v2.0h-2.0zM40.6 101.4h2.0v2.0h-2.0zM38.8 101.2h2.4v2.4h-2.4zM38.8 102.0h2.4v2.4h-2.4zM39.0 102.2h2.0v2.0h-2.0zM39.9 102.4h1.7v1.7h-1.7zM38.8 102.8h2.4v2.4h-2.4zM40.6 103.0h2.0v2.0h-2.0zM39.8 103.0h2.0v2.0h-2.0zM40.6 103.8h2.0v2.0h-2.0zM41.2 103.6h2.4v2.4h-2.4zM40.6 103.8h2.0v2.0h-2.0zM41.4 103.8h2.0v2.0h-2.0zM40.6 103.8h2.0v2.0h-2.0zM41.2 103.6h2.4v2.4h-2.4zM41.4 104.6h2.0v2.0h-2.0zM42.0 104.4h2.4v2.4h-2.4zM40.4 104.4h2.4v2.4h-2.4zM39.6 106.0h2.4v2.4h-2.4zM40.6 106.2h2.0v2.0h-2.0zM41.4 105.4h2.0v2.0h-2.0zM41.5 107.2h1.7v1.7h-1.7zM41.4 107.0h2.0v2.0h-2.0zM41.4 107.0h2.0v2.0h-2.0zM39.6 107.6h2.4v2.4h-2.4zM41.4 107.8h2.0v2.0h-2.0zM41.4 107.8h2.0v2.0h-2.0zM40.4 108.4h2.4v2.4h-2.4zM42.2 108.6h2.0v2.0h-2.0zM42.2 108.6h2.0v2.0h-2.0zM42.2 109.4h2.0v2.0h-2.0zM41.2 109.2h2.4v2.4h-2.4zM41.4 109.4h2.0v2.0h-2.0zM40.8 111.2h1.7v1.7h-1.7zM42.0 110.0h2.4v2.4h-2.4zM40.4 110.8h2.4v2.4h-2.4zM40.4 111.6h2.4v2.4h-2.4zM42.8 110.8h2.4v2.4h-2.4zM40.4 111.6h2.4v2.4h-2.4zM40.6 112.6h2.0v2.0h-2.0zM41.4 112.6h2.0v2.0h-2.0zM43.1 112.8h1.7v1.7h-1.7zM40.4 113.2h2.4v2.4h-2.4zM43.1 113.6h1.7v1.7h-1.7zM43.0 113.4h2.0v2.0h-2.0zM43.1 114.4h1.7v1.7h-1.7zM41.4 114.2h2.0v2.0h-2.0zM40.6 114.2h2.0v2.0h-2.0zM42.0 114.8h2.4v2.4h-2.4zM41.5 115.2h1.7v1.7h-1.7zM43.0 115.0h2.0v2.0h-2.0zM42.2 116.6h2.0v2.0h-2.0zM43.0 115.8h2.0v2.0h-2.0zM41.5 116.8h1.7v1.7h-1.7zM43.8 116.6h2.0v2.0h-2.0zM41.4 117.4h2.0v2.0h-2.0zM41.4 117.4h2.0v2.0h-2.0zM43.0 118.2h2.0v2.0h-2.0zM42.4 118.4h1.7v1.7h-1.7zM41.4 118.2h2.0v2.0h-2.0zM43.8 119.0h2.0v2.0h-2.0zM42.8 118.8h2.4v2.4h-2.4zM43.8 119.0h2.0v2.0h-2.0zM42.2 119.8h2.0v2.0h-2.0zM43.9 120.0h1.7v1.7h-1.7zM42.0 119.6h2.4v2.4h-2.4zM41.2 118.8h2.4v2.4h-2.4zM41.4 119.0h2.0v2.0h-2.0zM40.8 119.2h1.7v1.7h-1.7zM41.4 120.6h2.0v2.0h-2.0zM41.4 119.8h2.0v2.0h-2.0zM41.4 120.6h2.0v2.0h-2.0zM40.6 121.4h2.0v2.0h-2.0zM41.2 121.2h2.4v2.4h-2.4zM39.8 120.6h2.0v2.0h-2.0zM39.9 121.6h1.7v1.7h-1.7zM38.2 121.4h2.0v2.0h-2.0zM38.4 121.6h1.7v1.7h-1.7zM39.8 123.0h2.0v2.0h-2.0zM39.9 123.2h1.7v1.7h-1.7zM39.6 122.8h2.4v2.4h-2.4zM37.4 123.0h2.0v2.0h-2.0zM38.4 123.2h1.7v1.7h-1.7zM37.4 123.0h2.0v2.0h-2.0zM38.8 124.4h2.4v2.4h-2.4zM39.6 124.4h2.4v2.4h-2.4zM37.4 123.8h2.0v2.0h-2.0zM38.4 125.6h1.7v1.7h-1.7zM39.0 126.2h2.0v2.0h-2.0zM38.8 125.2h2.4v2.4h-2.4zM36.8 125.6h1.7v1.7h-1.7zM37.4 126.2h2.0v2.0h-2.0zM37.4 126.2h2.0v2.0h-2.0zM35.6 126.0h2.4v2.4h-2.4zM38.0 127.6h2.4v2.4h-2.4zM37.2 126.8h2.4v2.4h-2.4zM37.4 127.8h2.0v2.0h-2.0zM36.4 126.8h2.4v2.4h-2.4zM38.0 127.6h2.4v2.4h-2.4zM37.2 127.6h2.4v2.4h-2.4zM37.5 128.8h1.7v1.7h-1.7zM36.8 128.0h1.7v1.7h-1.7zM36.8 128.8h1.7v1.7h-1.7zM35.0 127.8h2.0v2.0h-2.0zM36.6 128.6h2.0v2.0h-2.0zM34.4 128.8h1.7v1.7h-1.7zM35.8 129.4h2.0v2.0h-2.0zM34.2 128.6h2.0v2.0h-2.0zM35.9 131.2h1.7v1.7h-1.7zM35.8 131.0h2.0v2.0h-2.0zM35.6 130.8h2.4v2.4h-2.4zM33.2 130.0h2.4v2.4h-2.4zM34.0 130.0h2.4v2.4h-2.4zM33.4 130.2h2.0v2.0h-2.0zM32.6 131.0h2.0v2.0h-2.0zM35.0 132.6h2.0v2.0h-2.0zM33.4 131.0h2.0v2.0h-2.0zM33.4 131.8h2.0v2.0h-2.0zM32.4 131.6h2.4v2.4h-2.4zM34.4 132.8h1.7v1.7h-1.7zM32.4 132.4h2.4v2.4h-2.4zM32.6 132.6h2.0v2.0h-2.0zM33.5 133.6h1.7v1.7h-1.7zM31.4 128.4h1.7v1.7h-1.7zM32.6 128.4h1.7v1.7h-1.7zM33.9 128.4h1.7v1.7h-1.7zM35.1 128.4h1.7v1.7h-1.7zM36.4 128.4h1.7v1.7h-1.7zM37.6 128.4h1.7v1.7h-1.7zM38.9 128.4h1.7v1.7h-1.7zM28.9 129.7h1.7v1.7h-1.7zM30.1 129.7h1.7v1.7h-1.7zM33.9 129.7h1.7v1.7h-1.7zM35.1 129.7h1.7v1.7h-1.7zM36.4 129.7h1.7v1.7h-1.7zM38.9 129.7h1.7v1.7h-1.7zM40.1 129.7h1.7v1.7h-1.7zM41.4 129.7h1.7v1.7h-1.7zM42.6 129.7h1.7v1.7h-1.7zM27.6 130.9h1.7v1.7h-1.7zM28.9 130.9h1.7v1.7h-1.7zM30.1 130.9h1.7v1.7h-1.7zM31.4 130.9h1.7v1.7h-1.7zM32.6 130.9h1.7v1.7h-1.7zM33.9 130.9h1.7v1.7h-1.7zM35.1 130.9h1.7v1.7h-1.7zM36.4 130.9h1.7v1.7h-1.7zM37.6 130.9h1.7v1.7h-1.7zM38.9 130.9h1.7v1.7h-1.7zM41.4 130.9h1.7v1.7h-1.7zM42.6 130.9h1.7v1.7h-1.7zM43.9 130.9h1.7v1.7h-1.7zM26.4 132.2h1.7v1.7h-1.7zM27.6 132.2h1.7v1.7h-1.7zM28.9 132.2h1.7v1.7h-1.7zM30.1 132.2h1.7v1.7h-1.7zM31.4 132.2h1.7v1.7h-1.7zM32.6 132.2h1.7v1.7h-1.7zM33.9 132.2h1.7v1.7h-1.7zM36.4 132.2h1.7v1.7h-1.7zM37.6 132.2h1.7v1.7h-1.7zM38.9 132.2h1.7v1.7h-1.7zM41.4 132.2h1.7v1.7h-1.7zM42.6 132.2h1.7v1.7h-1.7zM43.9 132.2h1.7v1.7h-1.7zM26.4 133.4h1.7v1.7h-1.7zM27.6 133.4h1.7v1.7h-1.7zM28.9 133.4h1.7v1.7h-1.7zM30.1 133.4h1.7v1.7h-1.7zM31.4 133.4h1.7v1.7h-1.7zM32.6 133.4h1.7v1.7h-1.7zM33.9 133.4h1.7v1.7h-1.7zM35.1 133.4h1.7v1.7h-1.7zM36.4 133.4h1.7v1.7h-1.7zM37.6 133.4h1.7v1.7h-1.7zM38.9 133.4h1.7v1.7h-1.7zM40.1 133.4h1.7v1.7h-1.7zM41.4 133.4h1.7v1.7h-1.7zM42.6 133.4h1.7v1.7h-1.7zM45.1 133.4h1.7v1.7h-1.7zM23.9 134.7h1.7v1.7h-1.7zM28.9 134.7h1.7v1.7h-1.7zM30.1 134.7h1.7v1.7h-1.7zM31.4 134.7h1.7v1.7h-1.7zM32.6 134.7h1.7v1.7h-1.7zM33.9 134.7h1.7v1.7h-1.7zM35.1 134.7h1.7v1.7h-1.7zM36.4 134.7h1.7v1.7h-1.7zM37.6 134.7h1.7v1.7h-1.7zM38.9 134.7h1.7v1.7h-1.7zM40.1 134.7h1.7v1.7h-1.7zM41.4 134.7h1.7v1.7h-1.7zM42.6 134.7h1.7v1.7h-1.7zM43.9 134.7h1.7v1.7h-1.7zM45.1 134.7h1.7v1.7h-1.7zM23.9 135.9h1.7v1.7h-1.7zM26.4 135.9h1.7v1.7h-1.7zM27.6 135.9h1.7v1.7h-1.7zM28.9 135.9h1.7v1.7h-1.7zM30.1 135.9h1.7v1.7h-1.7zM32.6 135.9h1.7v1.7h-1.7zM33.9 135.9h1.7v1.7h-1.7zM35.1 135.9h1.7v1.7h-1.7zM37.6 135.9h1.7v1.7h-1.7zM38.9 135.9h1.7v1.7h-1.7zM40.1 135.9h1.7v1.7h-1.7zM42.6 135.9h1.7v1.7h-1.7zM43.9 135.9h1.7v1.7h-1.7zM45.1 135.9h1.7v1.7h-1.7zM46.4 135.9h1.7v1.7h-1.7zM22.6 137.2h1.7v1.7h-1.7zM23.9 137.2h1.7v1.7h-1.7zM25.1 137.2h1.7v1.7h-1.7zM26.4 137.2h1.7v1.7h-1.7zM27.6 137.2h1.7v1.7h-1.7zM28.9 137.2h1.7v1.7h-1.7zM31.4 137.2h1.7v1.7h-1.7zM32.6 137.2h1.7v1.7h-1.7zM35.1 137.2h1.7v1.7h-1.7zM36.4 137.2h1.7v1.7h-1.7zM37.6 137.2h1.7v1.7h-1.7zM38.9 137.2h1.7v1.7h-1.7zM40.1 137.2h1.7v1.7h-1.7zM41.4 137.2h1.7v1.7h-1.7zM42.6 137.2h1.7v1.7h-1.7zM43.9 137.2h1.7v1.7h-1.7zM45.1 137.2h1.7v1.7h-1.7zM22.6 138.4h1.7v1.7h-1.7zM25.1 138.4h1.7v1.7h-1.7zM27.6 138.4h1.7v1.7h-1.7zM28.9 138.4h1.7v1.7h-1.7zM30.1 138.4h1.7v1.7h-1.7zM31.4 138.4h1.7v1.7h-1.7zM32.6 138.4h1.7v1.7h-1.7zM33.9 138.4h1.7v1.7h-1.7zM36.4 138.4h1.7v1.7h-1.7zM38.9 138.4h1.7v1.7h-1.7zM40.1 138.4h1.7v1.7h-1.7zM41.4 138.4h1.7v1.7h-1.7zM42.6 138.4h1.7v1.7h-1.7zM43.9 138.4h1.7v1.7h-1.7zM45.1 138.4h1.7v1.7h-1.7zM21.4 139.7h1.7v1.7h-1.7zM22.6 139.7h1.7v1.7h-1.7zM23.9 139.7h1.7v1.7h-1.7zM27.6 139.7h1.7v1.7h-1.7zM31.4 139.7h1.7v1.7h-1.7zM32.6 139.7h1.7v1.7h-1.7zM33.9 139.7h1.7v1.7h-1.7zM35.1 139.7h1.7v1.7h-1.7zM36.4 139.7h1.7v1.7h-1.7zM38.9 139.7h1.7v1.7h-1.7zM40.1 139.7h1.7v1.7h-1.7zM41.4 139.7h1.7v1.7h-1.7zM42.6 139.7h1.7v1.7h-1.7zM43.9 139.7h1.7v1.7h-1.7zM45.1 139.7h1.7v1.7h-1.7zM21.4 140.9h1.7v1.7h-1.7zM22.6 140.9h1.7v1.7h-1.7zM23.9 140.9h1.7v1.7h-1.7zM26.4 140.9h1.7v1.7h-1.7zM27.6 140.9h1.7v1.7h-1.7zM28.9 140.9h1.7v1.7h-1.7zM33.9 140.9h1.7v1.7h-1.7zM35.1 140.9h1.7v1.7h-1.7zM36.4 140.9h1.7v1.7h-1.7zM37.6 140.9h1.7v1.7h-1.7zM40.1 140.9h1.7v1.7h-1.7zM41.4 140.9h1.7v1.7h-1.7zM42.6 140.9h1.7v1.7h-1.7zM43.9 140.9h1.7v1.7h-1.7zM21.4 142.2h1.7v1.7h-1.7zM22.6 142.2h1.7v1.7h-1.7zM23.9 142.2h1.7v1.7h-1.7zM25.1 142.2h1.7v1.7h-1.7zM27.6 142.2h1.7v1.7h-1.7zM28.9 142.2h1.7v1.7h-1.7zM30.1 142.2h1.7v1.7h-1.7zM31.4 142.2h1.7v1.7h-1.7zM32.6 142.2h1.7v1.7h-1.7zM33.9 142.2h1.7v1.7h-1.7zM35.1 142.2h1.7v1.7h-1.7zM36.4 142.2h1.7v1.7h-1.7zM38.9 142.2h1.7v1.7h-1.7zM41.4 142.2h1.7v1.7h-1.7zM42.6 142.2h1.7v1.7h-1.7zM43.9 142.2h1.7v1.7h-1.7zM21.4 143.4h1.7v1.7h-1.7zM23.9 143.4h1.7v1.7h-1.7zM25.1 143.4h1.7v1.7h-1.7zM26.4 143.4h1.7v1.7h-1.7zM27.6 143.4h1.7v1.7h-1.7zM30.1 143.4h1.7v1.7h-1.7zM31.4 143.4h1.7v1.7h-1.7zM33.9 143.4h1.7v1.7h-1.7zM35.1 143.4h1.7v1.7h-1.7zM36.4 143.4h1.7v1.7h-1.7zM37.6 143.4h1.7v1.7h-1.7zM38.9 143.4h1.7v1.7h-1.7zM40.1 143.4h1.7v1.7h-1.7zM41.4 143.4h1.7v1.7h-1.7zM42.6 143.4h1.7v1.7h-1.7zM43.9 143.4h1.7v1.7h-1.7zM21.4 144.7h1.7v1.7h-1.7zM22.6 144.7h1.7v1.7h-1.7zM23.9 144.7h1.7v1.7h-1.7zM25.1 144.7h1.7v1.7h-1.7zM26.4 144.7h1.7v1.7h-1.7zM27.6 144.7h1.7v1.7h-1.7zM31.4 144.7h1.7v1.7h-1.7zM32.6 144.7h1.7v1.7h-1.7zM33.9 144.7h1.7v1.7h-1.7zM36.4 144.7h1.7v1.7h-1.7zM37.6 144.7h1.7v1.7h-1.7zM40.1 144.7h1.7v1.7h-1.7zM41.4 144.7h1.7v1.7h-1.7zM42.6 144.7h1.7v1.7h-1.7zM21.4 145.9h1.7v1.7h-1.7zM22.6 145.9h1.7v1.7h-1.7zM23.9 145.9h1.7v1.7h-1.7zM25.1 145.9h1.7v1.7h-1.7zM26.4 145.9h1.7v1.7h-1.7zM27.6 145.9h1.7v1.7h-1.7zM30.1 145.9h1.7v1.7h-1.7zM31.4 145.9h1.7v1.7h-1.7zM32.6 145.9h1.7v1.7h-1.7zM38.9 145.9h1.7v1.7h-1.7zM40.1 145.9h1.7v1.7h-1.7zM41.4 145.9h1.7v1.7h-1.7zM42.6 145.9h1.7v1.7h-1.7zM22.6 147.2h1.7v1.7h-1.7zM23.9 147.2h1.7v1.7h-1.7zM25.1 147.2h1.7v1.7h-1.7zM26.4 147.2h1.7v1.7h-1.7zM27.6 147.2h1.7v1.7h-1.7zM28.9 147.2h1.7v1.7h-1.7zM30.1 147.2h1.7v1.7h-1.7zM31.4 147.2h1.7v1.7h-1.7zM32.6 147.2h1.7v1.7h-1.7zM33.9 147.2h1.7v1.7h-1.7zM35.1 147.2h1.7v1.7h-1.7zM36.4 147.2h1.7v1.7h-1.7zM37.6 147.2h1.7v1.7h-1.7zM38.9 147.2h1.7v1.7h-1.7zM40.1 147.2h1.7v1.7h-1.7zM41.4 147.2h1.7v1.7h-1.7zM22.6 148.4h1.7v1.7h-1.7zM23.9 148.4h1.7v1.7h-1.7zM26.4 148.4h1.7v1.7h-1.7zM27.6 148.4h1.7v1.7h-1.7zM28.9 148.4h1.7v1.7h-1.7zM30.1 148.4h1.7v1.7h-1.7zM31.4 148.4h1.7v1.7h-1.7zM32.6 148.4h1.7v1.7h-1.7zM36.4 148.4h1.7v1.7h-1.7zM40.1 148.4h1.7v1.7h-1.7zM41.4 148.4h1.7v1.7h-1.7zM42.6 148.4h1.7v1.7h-1.7zM22.6 149.7h1.7v1.7h-1.7zM23.9 149.7h1.7v1.7h-1.7zM25.1 149.7h1.7v1.7h-1.7zM26.4 149.7h1.7v1.7h-1.7zM27.6 149.7h1.7v1.7h-1.7zM28.9 149.7h1.7v1.7h-1.7zM30.1 149.7h1.7v1.7h-1.7zM31.4 149.7h1.7v1.7h-1.7zM33.9 149.7h1.7v1.7h-1.7zM35.1 149.7h1.7v1.7h-1.7zM36.4 149.7h1.7v1.7h-1.7zM37.6 149.7h1.7v1.7h-1.7zM38.9 149.7h1.7v1.7h-1.7zM40.1 149.7h1.7v1.7h-1.7zM41.4 149.7h1.7v1.7h-1.7zM42.6 149.7h1.7v1.7h-1.7zM43.9 149.7h1.7v1.7h-1.7zM22.6 150.9h1.7v1.7h-1.7zM23.9 150.9h1.7v1.7h-1.7zM25.1 150.9h1.7v1.7h-1.7zM26.4 150.9h1.7v1.7h-1.7zM28.9 150.9h1.7v1.7h-1.7zM30.1 150.9h1.7v1.7h-1.7zM31.4 150.9h1.7v1.7h-1.7zM32.6 150.9h1.7v1.7h-1.7zM33.9 150.9h1.7v1.7h-1.7zM36.4 150.9h1.7v1.7h-1.7zM37.6 150.9h1.7v1.7h-1.7zM38.9 150.9h1.7v1.7h-1.7zM41.4 150.9h1.7v1.7h-1.7zM42.6 150.9h1.7v1.7h-1.7zM43.9 150.9h1.7v1.7h-1.7zM26.4 152.2h1.7v1.7h-1.7zM27.6 152.2h1.7v1.7h-1.7zM28.9 152.2h1.7v1.7h-1.7zM30.1 152.2h1.7v1.7h-1.7zM31.4 152.2h1.7v1.7h-1.7zM35.1 152.2h1.7v1.7h-1.7zM38.9 152.2h1.7v1.7h-1.7zM40.1 152.2h1.7v1.7h-1.7zM41.4 152.2h1.7v1.7h-1.7zM22.6 153.4h1.7v1.7h-1.7zM23.9 153.4h1.7v1.7h-1.7zM26.4 153.4h1.7v1.7h-1.7zM27.6 153.4h1.7v1.7h-1.7zM28.9 153.4h1.7v1.7h-1.7zM30.1 153.4h1.7v1.7h-1.7zM36.4 153.4h1.7v1.7h-1.7zM37.6 153.4h1.7v1.7h-1.7zM38.9 153.4h1.7v1.7h-1.7zM40.1 153.4h1.7v1.7h-1.7zM41.4 153.4h1.7v1.7h-1.7zM43.9 153.4h1.7v1.7h-1.7zM23.9 154.7h1.7v1.7h-1.7zM25.1 154.7h1.7v1.7h-1.7zM26.4 154.7h1.7v1.7h-1.7zM27.6 154.7h1.7v1.7h-1.7zM28.9 154.7h1.7v1.7h-1.7zM30.1 154.7h1.7v1.7h-1.7zM31.4 154.7h1.7v1.7h-1.7zM32.6 154.7h1.7v1.7h-1.7zM33.9 154.7h1.7v1.7h-1.7zM36.4 154.7h1.7v1.7h-1.7zM37.6 154.7h1.7v1.7h-1.7zM38.9 154.7h1.7v1.7h-1.7zM40.1 154.7h1.7v1.7h-1.7zM41.4 154.7h1.7v1.7h-1.7zM42.6 154.7h1.7v1.7h-1.7zM43.9 154.7h1.7v1.7h-1.7zM23.9 155.9h1.7v1.7h-1.7zM25.1 155.9h1.7v1.7h-1.7zM27.6 155.9h1.7v1.7h-1.7zM28.9 155.9h1.7v1.7h-1.7zM31.4 155.9h1.7v1.7h-1.7zM32.6 155.9h1.7v1.7h-1.7zM33.9 155.9h1.7v1.7h-1.7zM35.1 155.9h1.7v1.7h-1.7zM36.4 155.9h1.7v1.7h-1.7zM37.6 155.9h1.7v1.7h-1.7zM41.4 155.9h1.7v1.7h-1.7zM42.6 155.9h1.7v1.7h-1.7zM43.9 155.9h1.7v1.7h-1.7zM21.4 157.2h1.7v1.7h-1.7zM22.6 157.2h1.7v1.7h-1.7zM23.9 157.2h1.7v1.7h-1.7zM25.1 157.2h1.7v1.7h-1.7zM26.4 157.2h1.7v1.7h-1.7zM27.6 157.2h1.7v1.7h-1.7zM28.9 157.2h1.7v1.7h-1.7zM30.1 157.2h1.7v1.7h-1.7zM31.4 157.2h1.7v1.7h-1.7zM33.9 157.2h1.7v1.7h-1.7zM35.1 157.2h1.7v1.7h-1.7zM37.6 157.2h1.7v1.7h-1.7zM38.9 157.2h1.7v1.7h-1.7zM40.1 157.2h1.7v1.7h-1.7zM41.4 157.2h1.7v1.7h-1.7zM42.6 157.2h1.7v1.7h-1.7zM43.9 157.2h1.7v1.7h-1.7zM21.4 158.4h1.7v1.7h-1.7zM22.6 158.4h1.7v1.7h-1.7zM23.9 158.4h1.7v1.7h-1.7zM25.1 158.4h1.7v1.7h-1.7zM26.4 158.4h1.7v1.7h-1.7zM27.6 158.4h1.7v1.7h-1.7zM28.9 158.4h1.7v1.7h-1.7zM31.4 158.4h1.7v1.7h-1.7zM32.6 158.4h1.7v1.7h-1.7zM33.9 158.4h1.7v1.7h-1.7zM35.1 158.4h1.7v1.7h-1.7zM36.4 158.4h1.7v1.7h-1.7zM37.6 158.4h1.7v1.7h-1.7zM38.9 158.4h1.7v1.7h-1.7zM40.1 158.4h1.7v1.7h-1.7zM41.4 158.4h1.7v1.7h-1.7zM42.6 158.4h1.7v1.7h-1.7zM23.9 159.7h1.7v1.7h-1.7zM26.4 159.7h1.7v1.7h-1.7zM27.6 159.7h1.7v1.7h-1.7zM28.9 159.7h1.7v1.7h-1.7zM32.6 159.7h1.7v1.7h-1.7zM33.9 159.7h1.7v1.7h-1.7zM36.4 159.7h1.7v1.7h-1.7zM37.6 159.7h1.7v1.7h-1.7zM40.1 159.7h1.7v1.7h-1.7zM41.4 159.7h1.7v1.7h-1.7zM42.6 159.7h1.7v1.7h-1.7zM43.9 159.7h1.7v1.7h-1.7zM25.1 160.9h1.7v1.7h-1.7zM26.4 160.9h1.7v1.7h-1.7zM27.6 160.9h1.7v1.7h-1.7zM28.9 160.9h1.7v1.7h-1.7zM30.1 160.9h1.7v1.7h-1.7zM31.4 160.9h1.7v1.7h-1.7zM32.6 160.9h1.7v1.7h-1.7zM33.9 160.9h1.7v1.7h-1.7zM36.4 160.9h1.7v1.7h-1.7zM38.9 160.9h1.7v1.7h-1.7zM40.1 160.9h1.7v1.7h-1.7zM41.4 160.9h1.7v1.7h-1.7zM42.6 160.9h1.7v1.7h-1.7zM43.9 160.9h1.7v1.7h-1.7zM23.9 162.2h1.7v1.7h-1.7zM25.1 162.2h1.7v1.7h-1.7zM27.6 162.2h1.7v1.7h-1.7zM28.9 162.2h1.7v1.7h-1.7zM30.1 162.2h1.7v1.7h-1.7zM31.4 162.2h1.7v1.7h-1.7zM32.6 162.2h1.7v1.7h-1.7zM33.9 162.2h1.7v1.7h-1.7zM35.1 162.2h1.7v1.7h-1.7zM36.4 162.2h1.7v1.7h-1.7zM37.6 162.2h1.7v1.7h-1.7zM38.9 162.2h1.7v1.7h-1.7zM40.1 162.2h1.7v1.7h-1.7zM41.4 162.2h1.7v1.7h-1.7zM42.6 162.2h1.7v1.7h-1.7zM25.1 163.4h1.7v1.7h-1.7zM26.4 163.4h1.7v1.7h-1.7zM28.9 163.4h1.7v1.7h-1.7zM30.1 163.4h1.7v1.7h-1.7zM31.4 163.4h1.7v1.7h-1.7zM32.6 163.4h1.7v1.7h-1.7zM35.1 163.4h1.7v1.7h-1.7zM38.9 163.4h1.7v1.7h-1.7zM40.1 163.4h1.7v1.7h-1.7zM41.4 163.4h1.7v1.7h-1.7zM42.6 163.4h1.7v1.7h-1.7zM43.9 163.4h1.7v1.7h-1.7zM25.1 164.7h1.7v1.7h-1.7zM26.4 164.7h1.7v1.7h-1.7zM27.6 164.7h1.7v1.7h-1.7zM28.9 164.7h1.7v1.7h-1.7zM31.4 164.7h1.7v1.7h-1.7zM33.9 164.7h1.7v1.7h-1.7zM35.1 164.7h1.7v1.7h-1.7zM37.6 164.7h1.7v1.7h-1.7zM38.9 164.7h1.7v1.7h-1.7zM41.4 164.7h1.7v1.7h-1.7zM42.6 164.7h1.7v1.7h-1.7zM43.9 164.7h1.7v1.7h-1.7zM26.4 165.9h1.7v1.7h-1.7zM27.6 165.9h1.7v1.7h-1.7zM28.9 165.9h1.7v1.7h-1.7zM31.4 165.9h1.7v1.7h-1.7zM32.6 165.9h1.7v1.7h-1.7zM33.9 165.9h1.7v1.7h-1.7zM36.4 165.9h1.7v1.7h-1.7zM37.6 165.9h1.7v1.7h-1.7zM40.1 165.9h1.7v1.7h-1.7zM41.4 165.9h1.7v1.7h-1.7zM42.6 165.9h1.7v1.7h-1.7zM43.9 165.9h1.7v1.7h-1.7zM27.6 167.2h1.7v1.7h-1.7zM28.9 167.2h1.7v1.7h-1.7zM30.1 167.2h1.7v1.7h-1.7zM31.4 167.2h1.7v1.7h-1.7zM33.9 167.2h1.7v1.7h-1.7zM35.1 167.2h1.7v1.7h-1.7zM36.4 167.2h1.7v1.7h-1.7zM37.6 167.2h1.7v1.7h-1.7zM40.1 167.2h1.7v1.7h-1.7zM41.4 167.2h1.7v1.7h-1.7zM43.9 167.2h1.7v1.7h-1.7zM27.6 168.4h1.7v1.7h-1.7zM31.4 168.4h1.7v1.7h-1.7zM32.6 168.4h1.7v1.7h-1.7zM36.4 168.4h1.7v1.7h-1.7zM37.6 168.4h1.7v1.7h-1.7zM38.9 168.4h1.7v1.7h-1.7zM40.1 168.4h1.7v1.7h-1.7zM42.6 168.4h1.7v1.7h-1.7zM28.9 169.7h1.7v1.7h-1.7zM31.4 169.7h1.7v1.7h-1.7zM32.6 169.7h1.7v1.7h-1.7zM33.9 169.7h1.7v1.7h-1.7zM35.1 169.7h1.7v1.7h-1.7zM36.4 169.7h1.7v1.7h-1.7zM37.6 169.7h1.7v1.7h-1.7zM38.9 169.7h1.7v1.7h-1.7zM40.1 169.7h1.7v1.7h-1.7zM41.4 169.7h1.7v1.7h-1.7zM30.1 170.9h1.7v1.7h-1.7zM31.4 170.9h1.7v1.7h-1.7zM33.9 170.9h1.7v1.7h-1.7zM35.1 170.9h1.7v1.7h-1.7zM36.4 170.9h1.7v1.7h-1.7zM37.6 170.9h1.7v1.7h-1.7zM38.9 170.9h1.7v1.7h-1.7zM40.1 170.9h1.7v1.7h-1.7zM41.4 170.9h1.7v1.7h-1.7zM30.1 172.2h1.7v1.7h-1.7zM31.4 172.2h1.7v1.7h-1.7zM32.6 172.2h1.7v1.7h-1.7zM33.9 172.2h1.7v1.7h-1.7zM35.1 172.2h1.7v1.7h-1.7zM36.4 172.2h1.7v1.7h-1.7zM42.6 172.2h1.7v1.7h-1.7zM31.4 173.4h1.7v1.7h-1.7zM33.9 173.4h1.7v1.7h-1.7zM35.1 173.4h1.7v1.7h-1.7zM36.4 173.4h1.7v1.7h-1.7zM37.6 173.4h1.7v1.7h-1.7zM38.9 173.4h1.7v1.7h-1.7zM41.4 173.4h1.7v1.7h-1.7zM42.6 173.4h1.7v1.7h-1.7zM32.6 174.7h1.7v1.7h-1.7zM33.9 174.7h1.7v1.7h-1.7zM36.4 174.7h1.7v1.7h-1.7zM37.6 174.7h1.7v1.7h-1.7zM38.9 174.7h1.7v1.7h-1.7zM40.1 174.7h1.7v1.7h-1.7zM41.4 174.7h1.7v1.7h-1.7zM42.6 174.7h1.7v1.7h-1.7zM32.6 175.9h1.7v1.7h-1.7zM33.9 175.9h1.7v1.7h-1.7zM36.4 175.9h1.7v1.7h-1.7zM37.6 175.9h1.7v1.7h-1.7zM40.1 175.9h1.7v1.7h-1.7zM41.4 175.9h1.7v1.7h-1.7zM42.6 175.9h1.7v1.7h-1.7zM32.6 177.2h1.7v1.7h-1.7zM33.9 177.2h1.7v1.7h-1.7zM35.1 177.2h1.7v1.7h-1.7zM36.4 177.2h1.7v1.7h-1.7zM38.9 177.2h1.7v1.7h-1.7zM40.1 177.2h1.7v1.7h-1.7zM41.4 177.2h1.7v1.7h-1.7zM42.6 177.2h1.7v1.7h-1.7zM33.9 178.4h1.7v1.7h-1.7zM35.1 178.4h1.7v1.7h-1.7zM37.6 178.4h1.7v1.7h-1.7zM38.9 178.4h1.7v1.7h-1.7zM40.1 178.4h1.7v1.7h-1.7zM41.4 178.4h1.7v1.7h-1.7zM42.6 178.4h1.7v1.7h-1.7zM43.9 178.4h1.7v1.7h-1.7zM33.9 179.7h1.7v1.7h-1.7zM35.1 179.7h1.7v1.7h-1.7zM36.4 179.7h1.7v1.7h-1.7zM38.9 179.7h1.7v1.7h-1.7zM40.1 179.7h1.7v1.7h-1.7zM41.4 179.7h1.7v1.7h-1.7zM42.6 179.7h1.7v1.7h-1.7zM43.9 179.7h1.7v1.7h-1.7zM35.1 180.9h1.7v1.7h-1.7zM36.4 180.9h1.7v1.7h-1.7zM37.6 180.9h1.7v1.7h-1.7zM40.1 180.9h1.7v1.7h-1.7zM42.6 180.9h1.7v1.7h-1.7zM43.9 180.9h1.7v1.7h-1.7zM36.4 182.2h1.7v1.7h-1.7zM37.6 182.2h1.7v1.7h-1.7zM38.9 182.2h1.7v1.7h-1.7zM40.1 182.2h1.7v1.7h-1.7zM42.6 182.2h1.7v1.7h-1.7zM43.9 182.2h1.7v1.7h-1.7zM37.6 183.4h1.7v1.7h-1.7zM38.9 183.4h1.7v1.7h-1.7zM41.4 183.4h1.7v1.7h-1.7zM42.6 183.4h1.7v1.7h-1.7zM43.9 183.4h1.7v1.7h-1.7zM40.1 184.7h1.7v1.7h-1.7zM40.6 183.0h2.0v2.0h-2.0zM39.9 183.2h1.7v1.7h-1.7zM41.4 183.0h2.0v2.0h-2.0zM39.6 182.8h2.4v2.4h-2.4zM39.6 183.6h2.4v2.4h-2.4zM40.4 183.6h2.4v2.4h-2.4zM38.4 184.8h1.7v1.7h-1.7zM41.4 183.8h2.0v2.0h-2.0zM39.9 184.8h1.7v1.7h-1.7zM42.4 184.8h1.7v1.7h-1.7zM39.8 185.4h2.0v2.0h-2.0zM39.1 185.6h1.7v1.7h-1.7zM40.4 185.2h2.4v2.4h-2.4zM39.8 186.2h2.0v2.0h-2.0zM42.0 185.2h2.4v2.4h-2.4zM40.6 186.2h2.0v2.0h-2.0zM42.2 186.2h2.0v2.0h-2.0zM41.4 186.2h2.0v2.0h-2.0zM41.4 186.2h2.0v2.0h-2.0zM41.5 187.2h1.7v1.7h-1.7zM39.8 187.8h2.0v2.0h-2.0zM41.2 187.6h2.4v2.4h-2.4zM41.4 187.8h2.0v2.0h-2.0zM39.8 187.8h2.0v2.0h-2.0zM39.6 188.4h2.4v2.4h-2.4zM40.6 188.6h2.0v2.0h-2.0zM42.2 188.6h2.0v2.0h-2.0zM43.1 188.8h1.7v1.7h-1.7zM40.8 189.6h1.7v1.7h-1.7zM42.0 189.2h2.4v2.4h-2.4zM41.5 189.6h1.7v1.7h-1.7zM42.4 189.6h1.7v1.7h-1.7zM43.8 190.2h2.0v2.0h-2.0zM40.4 190.8h2.4v2.4h-2.4zM41.5 190.3h1.7v1.7h-1.7zM40.4 190.8h2.4v2.4h-2.4zM41.5 192.0h1.7v1.7h-1.7zM42.8 190.8h2.4v2.4h-2.4zM41.4 191.8h2.0v2.0h-2.0zM43.8 191.0h2.0v2.0h-2.0zM41.2 192.4h2.4v2.4h-2.4zM41.5 192.8h1.7v1.7h-1.7zM43.0 191.8h2.0v2.0h-2.0zM41.4 192.6h2.0v2.0h-2.0zM41.4 193.4h2.0v2.0h-2.0zM43.0 193.4h2.0v2.0h-2.0zM44.8 192.8h1.7v1.7h-1.7zM42.4 193.6h1.7v1.7h-1.7zM41.2 194.0h2.4v2.4h-2.4zM42.0 194.0h2.4v2.4h-2.4zM43.1 194.3h1.7v1.7h-1.7zM42.2 194.2h2.0v2.0h-2.0zM42.8 194.8h2.4v2.4h-2.4zM43.1 195.2h1.7v1.7h-1.7zM42.2 195.0h2.0v2.0h-2.0zM41.5 195.2h1.7v1.7h-1.7zM43.1 195.2h1.7v1.7h-1.7zM42.4 195.2h1.7v1.7h-1.7zM41.5 196.0h1.7v1.7h-1.7zM43.9 195.2h1.7v1.7h-1.7zM44.8 196.0h1.7v1.7h-1.7zM43.8 195.8h2.0v2.0h-2.0zM43.8 195.8h2.0v2.0h-2.0zM41.4 196.6h2.0v2.0h-2.0zM42.2 197.4h2.0v2.0h-2.0zM43.1 196.8h1.7v1.7h-1.7zM44.4 196.4h2.4v2.4h-2.4zM43.8 196.6h2.0v2.0h-2.0zM42.4 198.3h1.7v1.7h-1.7zM43.1 198.3h1.7v1.7h-1.7zM45.5 197.6h1.7v1.7h-1.7zM43.8 197.4h2.0v2.0h-2.0zM43.0 199.0h2.0v2.0h-2.0zM42.0 198.8h2.4v2.4h-2.4zM43.8 199.0h2.0v2.0h-2.0zM44.4 198.0h2.4v2.4h-2.4zM44.6 199.0h2.0v2.0h-2.0zM45.5 199.2h1.7v1.7h-1.7zM44.6 199.0h2.0v2.0h-2.0zM43.6 199.6h2.4v2.4h-2.4zM44.4 200.4h2.4v2.4h-2.4zM43.0 200.6h2.0v2.0h-2.0zM45.5 200.0h1.7v1.7h-1.7zM43.8 200.6h2.0v2.0h-2.0zM43.9 201.6h1.7v1.7h-1.7zM43.8 201.4h2.0v2.0h-2.0zM44.6 201.4h2.0v2.0h-2.0zM45.2 201.2h2.4v2.4h-2.4zM44.6 202.2h2.0v2.0h-2.0zM43.8 202.2h2.0v2.0h-2.0zM44.6 202.2h2.0v2.0h-2.0zM46.0 201.2h2.4v2.4h-2.4zM46.4 202.3h1.7v1.7h-1.7zM46.2 203.0h2.0v2.0h-2.0zM43.8 203.0h2.0v2.0h-2.0zM46.0 202.8h2.4v2.4h-2.4zM46.4 204.0h1.7v1.7h-1.7zM45.2 203.6h2.4v2.4h-2.4zM44.6 203.8h2.0v2.0h-2.0zM44.6 203.8h2.0v2.0h-2.0zM46.4 204.8h1.7v1.7h-1.7zM45.2 204.4h2.4v2.4h-2.4zM45.4 204.6h2.0v2.0h-2.0zM45.5 204.8h1.7v1.7h-1.7zM44.4 205.2h2.4v2.4h-2.4zM46.2 205.4h2.0v2.0h-2.0zM45.4 205.4h2.0v2.0h-2.0zM46.2 205.4h2.0v2.0h-2.0zM44.6 207.0h2.0v2.0h-2.0zM46.2 206.2h2.0v2.0h-2.0zM47.0 206.2h2.0v2.0h-2.0zM47.8 206.2h2.0v2.0h-2.0zM47.0 207.0h2.0v2.0h-2.0zM47.0 207.0h2.0v2.0h-2.0zM46.8 206.8h2.4v2.4h-2.4zM47.1 207.2h1.7v1.7h-1.7zM46.8 207.6h2.4v2.4h-2.4zM45.4 208.6h2.0v2.0h-2.0zM47.1 208.0h1.7v1.7h-1.7zM47.1 208.0h1.7v1.7h-1.7zM48.6 208.6h2.0v2.0h-2.0zM45.2 209.2h2.4v2.4h-2.4zM47.0 209.4h2.0v2.0h-2.0zM47.8 208.6h2.0v2.0h-2.0zM46.8 208.4h2.4v2.4h-2.4zM46.2 209.4h2.0v2.0h-2.0zM47.9 208.8h1.7v1.7h-1.7zM47.8 208.6h2.0v2.0h-2.0zM47.9 209.6h1.7v1.7h-1.7zM48.6 209.4h2.0v2.0h-2.0zM46.0 210.0h2.4v2.4h-2.4zM47.1 210.3h1.7v1.7h-1.7zM46.0 210.8h2.4v2.4h-2.4zM46.4 211.2h1.7v1.7h-1.7zM48.6 210.2h2.0v2.0h-2.0zM46.8 210.8h2.4v2.4h-2.4zM48.6 211.0h2.0v2.0h-2.0zM48.6 211.8h2.0v2.0h-2.0zM46.2 211.8h2.0v2.0h-2.0zM48.6 211.0h2.0v2.0h-2.0zM46.4 213.6h1.7v1.7h-1.7zM47.1 212.8h1.7v1.7h-1.7zM47.1 212.8h1.7v1.7h-1.7zM48.4 212.4h2.4v2.4h-2.4zM50.2 212.6h2.0v2.0h-2.0zM49.5 213.6h1.7v1.7h-1.7zM47.0 214.2h2.0v2.0h-2.0zM47.6 213.2h2.4v2.4h-2.4zM47.9 215.2h1.7v1.7h-1.7zM48.6 214.2h2.0v2.0h-2.0zM49.5 214.3h1.7v1.7h-1.7zM49.2 214.0h2.4v2.4h-2.4zM50.2 215.0h2.0v2.0h-2.0zM47.9 216.0h1.7v1.7h-1.7zM49.4 215.0h2.0v2.0h-2.0zM47.8 215.8h2.0v2.0h-2.0zM47.8 216.6h2.0v2.0h-2.0zM51.0 215.8h2.0v2.0h-2.0zM47.8 216.6h2.0v2.0h-2.0zM48.8 216.8h1.7v1.7h-1.7zM47.6 217.2h2.4v2.4h-2.4zM48.8 217.6h1.7v1.7h-1.7zM49.4 216.6h2.0v2.0h-2.0zM50.2 216.6h2.0v2.0h-2.0zM50.2 218.2h2.0v2.0h-2.0zM51.0 217.4h2.0v2.0h-2.0zM48.6 218.2h2.0v2.0h-2.0zM49.4 218.2h2.0v2.0h-2.0zM50.2 219.0h2.0v2.0h-2.0zM50.8 218.0h2.4v2.4h-2.4zM51.1 218.3h1.7v1.7h-1.7zM51.0 218.2h2.0v2.0h-2.0zM51.0 219.8h2.0v2.0h-2.0zM51.1 220.0h1.7v1.7h-1.7zM50.8 219.6h2.4v2.4h-2.4zM51.9 219.2h1.7v1.7h-1.7zM50.2 220.6h2.0v2.0h-2.0zM50.2 220.6h2.0v2.0h-2.0zM51.8 219.8h2.0v2.0h-2.0zM48.4 221.2h2.4v2.4h-2.4zM49.4 222.2h2.0v2.0h-2.0zM49.5 222.3h1.7v1.7h-1.7zM50.8 221.2h2.4v2.4h-2.4zM49.5 222.3h1.7v1.7h-1.7zM50.2 223.0h2.0v2.0h-2.0zM52.8 222.3h1.7v1.7h-1.7zM51.0 222.2h2.0v2.0h-2.0zM50.8 222.0h2.4v2.4h-2.4zM53.4 223.0h2.0v2.0h-2.0zM52.4 222.8h2.4v2.4h-2.4zM53.2 222.8h2.4v2.4h-2.4zM52.6 223.0h2.0v2.0h-2.0zM52.6 223.8h2.0v2.0h-2.0zM51.8 223.8h2.0v2.0h-2.0zM51.0 224.6h2.0v2.0h-2.0zM51.1 224.8h1.7v1.7h-1.7zM50.8 225.2h2.4v2.4h-2.4zM51.0 225.4h2.0v2.0h-2.0zM53.4 224.6h2.0v2.0h-2.0zM51.8 225.4h2.0v2.0h-2.0zM53.2 224.4h2.4v2.4h-2.4zM51.1 225.6h1.7v1.7h-1.7zM51.8 225.4h2.0v2.0h-2.0zM52.4 224.4h2.4v2.4h-2.4zM53.2 225.2h2.4v2.4h-2.4zM50.8 226.0h2.4v2.4h-2.4zM53.4 225.4h2.0v2.0h-2.0zM53.4 225.4h2.0v2.0h-2.0zM54.2 226.2h2.0v2.0h-2.0zM52.8 227.2h1.7v1.7h-1.7zM53.2 226.0h2.4v2.4h-2.4zM51.1 227.2h1.7v1.7h-1.7zM54.2 227.0h2.0v2.0h-2.0zM51.8 227.8h2.0v2.0h-2.0zM51.6 227.6h2.4v2.4h-2.4zM52.8 228.0h1.7v1.7h-1.7zM54.4 228.8h1.7v1.7h-1.7zM51.6 229.2h2.4v2.4h-2.4zM53.5 228.8h1.7v1.7h-1.7zM53.4 228.6h2.0v2.0h-2.0zM55.1 228.8h1.7v1.7h-1.7zM54.2 229.4h2.0v2.0h-2.0zM55.0 228.6h2.0v2.0h-2.0zM54.4 229.6h1.7v1.7h-1.7zM55.8 229.4h2.0v2.0h-2.0zM54.8 230.0h2.4v2.4h-2.4zM53.2 230.0h2.4v2.4h-2.4zM55.1 229.6h1.7v1.7h-1.7zM53.5 231.2h1.7v1.7h-1.7zM54.8 230.8h2.4v2.4h-2.4zM54.2 231.0h2.0v2.0h-2.0zM55.9 231.2h1.7v1.7h-1.7zM55.0 231.8h2.0v2.0h-2.0zM54.2 231.8h2.0v2.0h-2.0zM53.4 232.6h2.0v2.0h-2.0zM54.0 232.4h2.4v2.4h-2.4zM54.2 233.4h2.0v2.0h-2.0zM53.5 233.6h1.7v1.7h-1.7zM53.2 233.2h2.4v2.4h-2.4zM54.4 233.6h1.7v1.7h-1.7zM55.9 233.6h1.7v1.7h-1.7zM54.2 234.2h2.0v2.0h-2.0zM55.8 233.4h2.0v2.0h-2.0zM54.2 234.2h2.0v2.0h-2.0zM54.4 235.2h1.7v1.7h-1.7zM55.8 234.2h2.0v2.0h-2.0zM54.2 235.0h2.0v2.0h-2.0zM56.4 234.0h2.4v2.4h-2.4zM55.1 236.0h1.7v1.7h-1.7zM56.6 235.0h2.0v2.0h-2.0zM57.2 234.8h2.4v2.4h-2.4zM56.8 235.2h1.7v1.7h-1.7zM56.4 235.6h2.4v2.4h-2.4zM54.0 236.4h2.4v2.4h-2.4zM55.9 236.8h1.7v1.7h-1.7zM57.4 235.8h2.0v2.0h-2.0zM55.0 237.4h2.0v2.0h-2.0zM55.9 237.6h1.7v1.7h-1.7zM55.8 237.4h2.0v2.0h-2.0zM57.5 236.8h1.7v1.7h-1.7zM56.8 238.3h1.7v1.7h-1.7zM57.4 238.2h2.0v2.0h-2.0zM57.4 238.2h2.0v2.0h-2.0zM58.2 237.4h2.0v2.0h-2.0zM58.2 238.2h2.0v2.0h-2.0zM57.4 239.0h2.0v2.0h-2.0zM55.6 239.6h2.4v2.4h-2.4zM56.6 239.0h2.0v2.0h-2.0zM58.4 239.2h1.7v1.7h-1.7zM56.6 239.0h2.0v2.0h-2.0zM55.8 239.8h2.0v2.0h-2.0zM56.6 239.0h2.0v2.0h-2.0zM57.4 239.8h2.0v2.0h-2.0zM57.4 239.8h2.0v2.0h-2.0zM56.4 239.6h2.4v2.4h-2.4zM56.8 240.8h1.7v1.7h-1.7zM58.2 240.6h2.0v2.0h-2.0zM58.8 240.4h2.4v2.4h-2.4zM55.6 241.2h2.4v2.4h-2.4zM59.0 239.8h2.0v2.0h-2.0zM59.0 241.4h2.0v2.0h-2.0zM59.0 241.4h2.0v2.0h-2.0zM58.2 241.4h2.0v2.0h-2.0zM56.6 242.2h2.0v2.0h-2.0zM59.1 242.3h1.7v1.7h-1.7zM59.9 242.3h1.7v1.7h-1.7zM58.2 242.2h2.0v2.0h-2.0zM59.1 242.3h1.7v1.7h-1.7zM58.8 242.8h2.4v2.4h-2.4zM59.1 243.2h1.7v1.7h-1.7zM59.0 243.0h2.0v2.0h-2.0zM59.0 243.0h2.0v2.0h-2.0zM60.6 243.8h2.0v2.0h-2.0zM59.0 244.6h2.0v2.0h-2.0zM58.4 244.8h1.7v1.7h-1.7zM58.0 244.4h2.4v2.4h-2.4zM60.6 244.6h2.0v2.0h-2.0zM59.9 244.8h1.7v1.7h-1.7zM61.5 244.8h1.7v1.7h-1.7zM59.8 244.6h2.0v2.0h-2.0zM59.8 245.4h2.0v2.0h-2.0zM59.1 246.3h1.7v1.7h-1.7zM60.4 245.2h2.4v2.4h-2.4zM59.0 246.2h2.0v2.0h-2.0zM59.8 247.0h2.0v2.0h-2.0zM60.4 246.0h2.4v2.4h-2.4zM59.9 247.2h1.7v1.7h-1.7zM58.8 246.8h2.4v2.4h-2.4zM60.6 247.8h2.0v2.0h-2.0zM61.4 247.0h2.0v2.0h-2.0zM59.6 247.6h2.4v2.4h-2.4zM60.6 247.8h2.0v2.0h-2.0zM62.2 247.8h2.0v2.0h-2.0zM61.4 247.8h2.0v2.0h-2.0zM59.8 249.4h2.0v2.0h-2.0zM59.1 249.6h1.7v1.7h-1.7zM63.0 248.6h2.0v2.0h-2.0zM61.2 249.2h2.4v2.4h-2.4zM62.2 249.4h2.0v2.0h-2.0zM61.2 249.2h2.4v2.4h-2.4zM61.2 250.0h2.4v2.4h-2.4zM62.2 250.2h2.0v2.0h-2.0zM63.0 249.4h2.0v2.0h-2.0zM61.5 250.3h1.7v1.7h-1.7zM61.4 251.0h2.0v2.0h-2.0zM63.0 250.2h2.0v2.0h-2.0zM62.2 251.0h2.0v2.0h-2.0zM60.4 251.6h2.4v2.4h-2.4zM62.0 250.8h2.4v2.4h-2.4zM61.4 251.8h2.0v2.0h-2.0zM61.5 251.2h1.7v1.7h-1.7zM63.0 250.2h2.0v2.0h-2.0zM63.1 252.0h1.7v1.7h-1.7zM61.4 252.6h2.0v2.0h-2.0zM63.8 251.0h2.0v2.0h-2.0zM62.0 252.4h2.4v2.4h-2.4zM62.2 252.6h2.0v2.0h-2.0zM62.2 253.4h2.0v2.0h-2.0zM63.0 252.6h2.0v2.0h-2.0zM63.1 252.8h1.7v1.7h-1.7zM63.1 254.3h1.7v1.7h-1.7zM63.9 253.6h1.7v1.7h-1.7zM63.1 254.3h1.7v1.7h-1.7zM63.0 254.2h2.0v2.0h-2.0zM63.1 255.2h1.7v1.7h-1.7zM62.8 254.8h2.4v2.4h-2.4zM63.1 255.2h1.7v1.7h-1.7zM63.8 255.0h2.0v2.0h-2.0zM65.4 255.0h2.0v2.0h-2.0zM63.0 255.8h2.0v2.0h-2.0zM64.4 255.6h2.4v2.4h-2.4zM63.8 255.8h2.0v2.0h-2.0zM66.4 256.0h1.7v1.7h-1.7zM66.4 255.2h1.7v1.7h-1.7zM66.0 255.6h2.4v2.4h-2.4zM63.6 256.4h2.4v2.4h-2.4zM64.8 257.5h1.7v1.7h-1.7zM65.4 257.4h2.0v2.0h-2.0zM67.0 256.6h2.0v2.0h-2.0zM66.2 256.6h2.0v2.0h-2.0zM53.5 281.5h1.7v1.7h-1.7zM55.1 282.3h1.7v1.7h-1.7zM54.0 282.0h2.4v2.4h-2.4zM55.1 281.5h1.7v1.7h-1.7zM54.0 280.4h2.4v2.4h-2.4zM55.1 281.5h1.7v1.7h-1.7zM55.8 280.6h2.0v2.0h-2.0zM55.1 279.9h1.7v1.7h-1.7zM55.0 279.8h2.0v2.0h-2.0zM55.6 279.6h2.4v2.4h-2.4zM55.8 279.8h2.0v2.0h-2.0zM56.4 280.4h2.4v2.4h-2.4zM57.5 279.9h1.7v1.7h-1.7zM56.4 278.8h2.4v2.4h-2.4zM56.6 279.0h2.0v2.0h-2.0zM57.2 278.0h2.4v2.4h-2.4zM58.0 278.8h2.4v2.4h-2.4zM56.6 277.4h2.0v2.0h-2.0zM57.4 276.6h2.0v2.0h-2.0zM57.4 277.4h2.0v2.0h-2.0zM57.4 276.6h2.0v2.0h-2.0zM58.2 276.6h2.0v2.0h-2.0zM58.0 276.4h2.4v2.4h-2.4zM58.4 276.8h1.7v1.7h-1.7zM59.6 276.4h2.4v2.4h-2.4zM59.8 276.6h2.0v2.0h-2.0zM58.8 275.6h2.4v2.4h-2.4zM58.2 275.8h2.0v2.0h-2.0zM58.8 275.6h2.4v2.4h-2.4zM58.4 275.1h1.7v1.7h-1.7zM59.8 275.0h2.0v2.0h-2.0zM59.0 275.0h2.0v2.0h-2.0zM59.0 275.0h2.0v2.0h-2.0zM60.6 275.0h2.0v2.0h-2.0zM60.4 274.8h2.4v2.4h-2.4zM60.6 275.0h2.0v2.0h-2.0zM60.6 273.4h2.0v2.0h-2.0zM60.4 273.2h2.4v2.4h-2.4zM60.6 273.4h2.0v2.0h-2.0zM61.2 272.4h2.4v2.4h-2.4zM61.4 273.4h2.0v2.0h-2.0zM62.2 273.4h2.0v2.0h-2.0zM63.0 272.6h2.0v2.0h-2.0zM62.0 272.4h2.4v2.4h-2.4zM62.2 272.6h2.0v2.0h-2.0zM62.8 271.6h2.4v2.4h-2.4zM63.0 271.8h2.0v2.0h-2.0zM62.4 271.1h1.7v1.7h-1.7zM63.9 271.1h1.7v1.7h-1.7zM63.8 271.0h2.0v2.0h-2.0zM63.6 270.8h2.4v2.4h-2.4zM63.8 269.4h2.0v2.0h-2.0zM63.6 270.0h2.4v2.4h-2.4zM64.6 270.2h2.0v2.0h-2.0zM65.4 270.2h2.0v2.0h-2.0zM64.8 269.5h1.7v1.7h-1.7zM64.6 268.6h2.0v2.0h-2.0zM160.6 286.2h2.0v2.0h-2.0zM159.8 286.2h2.0v2.0h-2.0zM160.6 284.6h2.0v2.0h-2.0zM160.4 284.4h2.4v2.4h-2.4zM161.2 284.4h2.4v2.4h-2.4zM161.2 284.4h2.4v2.4h-2.4zM162.2 283.8h2.0v2.0h-2.0zM162.2 283.8h2.0v2.0h-2.0zM161.4 282.2h2.0v2.0h-2.0zM162.3 283.1h1.7v1.7h-1.7zM162.0 282.0h2.4v2.4h-2.4zM162.0 281.2h2.4v2.4h-2.4zM162.3 280.8h1.7v1.7h-1.7zM162.3 280.8h1.7v1.7h-1.7zM163.0 279.8h2.0v2.0h-2.0zM163.2 280.8h1.7v1.7h-1.7zM163.0 279.0h2.0v2.0h-2.0zM163.8 279.0h2.0v2.0h-2.0zM164.0 278.3h1.7v1.7h-1.7zM163.8 278.2h2.0v2.0h-2.0zM164.6 277.4h2.0v2.0h-2.0zM164.6 277.4h2.0v2.0h-2.0zM165.4 277.4h2.0v2.0h-2.0zM165.6 277.5h1.7v1.7h-1.7zM165.4 275.8h2.0v2.0h-2.0zM165.6 275.9h1.7v1.7h-1.7zM165.6 276.8h1.7v1.7h-1.7zM164.6 275.8h2.0v2.0h-2.0zM165.4 275.0h2.0v2.0h-2.0zM165.6 275.1h1.7v1.7h-1.7zM165.2 274.0h2.4v2.4h-2.4zM166.2 274.2h2.0v2.0h-2.0zM166.3 273.5h1.7v1.7h-1.7zM166.0 273.2h2.4v2.4h-2.4zM166.2 272.6h2.0v2.0h-2.0zM166.8 272.4h2.4v2.4h-2.4zM167.0 271.8h2.0v2.0h-2.0zM167.0 271.8h2.0v2.0h-2.0zM167.0 271.0h2.0v2.0h-2.0zM167.0 270.2h2.0v2.0h-2.0zM167.0 269.4h2.0v2.0h-2.0zM167.8 270.2h2.0v2.0h-2.0zM167.8 269.4h2.0v2.0h-2.0zM168.6 269.4h2.0v2.0h-2.0zM167.6 267.6h2.4v2.4h-2.4zM167.8 267.8h2.0v2.0h-2.0zM168.4 266.8h2.4v2.4h-2.4zM168.6 267.8h2.0v2.0h-2.0zM169.6 266.3h1.7v1.7h-1.7zM169.2 266.0h2.4v2.4h-2.4zM168.6 265.4h2.0v2.0h-2.0zM169.4 265.4h2.0v2.0h-2.0zM170.2 264.6h2.0v2.0h-2.0zM170.2 264.6h2.0v2.0h-2.0zM170.3 263.9h1.7v1.7h-1.7zM170.2 263.8h2.0v2.0h-2.0zM171.0 263.0h2.0v2.0h-2.0zM170.8 262.8h2.4v2.4h-2.4zM164.4 278.0h2.4v2.4h-2.4zM164.8 278.3h1.7v1.7h-1.7zM166.3 279.1h1.7v1.7h-1.7zM166.2 278.2h2.0v2.0h-2.0zM167.0 279.0h2.0v2.0h-2.0zM167.2 279.1h1.7v1.7h-1.7zM167.6 279.6h2.4v2.4h-2.4zM167.8 279.8h2.0v2.0h-2.0zM169.2 279.6h2.4v2.4h-2.4zM168.6 279.8h2.0v2.0h-2.0zM254.0 149.2h2.4v2.4h-2.4zM254.2 149.4h2.0v2.0h-2.0zM254.8 147.6h2.4v2.4h-2.4zM256.0 148.8h1.7v1.7h-1.7zM256.6 148.6h2.0v2.0h-2.0zM256.4 148.4h2.4v2.4h-2.4zM257.2 147.6h2.4v2.4h-2.4zM257.5 148.0h1.7v1.7h-1.7zM258.2 147.8h2.0v2.0h-2.0zM258.2 147.0h2.0v2.0h-2.0zM259.1 146.3h1.7v1.7h-1.7zM259.0 146.2h2.0v2.0h-2.0zM259.9 146.3h1.7v1.7h-1.7zM259.8 146.2h2.0v2.0h-2.0zM260.6 146.2h2.0v2.0h-2.0zM261.4 146.2h2.0v2.0h-2.0zM260.6 145.4h2.0v2.0h-2.0zM261.2 146.0h2.4v2.4h-2.4zM262.2 145.4h2.0v2.0h-2.0zM261.2 145.2h2.4v2.4h-2.4zM262.2 144.6h2.0v2.0h-2.0zM262.2 144.6h2.0v2.0h-2.0zM262.3 144.0h1.7v1.7h-1.7zM262.3 144.0h1.7v1.7h-1.7zM263.0 143.0h2.0v2.0h-2.0zM262.2 143.0h2.0v2.0h-2.0zM263.1 142.3h1.7v1.7h-1.7zM263.8 142.2h2.0v2.0h-2.0zM263.8 141.4h2.0v2.0h-2.0zM263.8 141.4h2.0v2.0h-2.0zM264.6 140.6h2.0v2.0h-2.0zM264.6 140.6h2.0v2.0h-2.0zM265.4 140.6h2.0v2.0h-2.0zM265.4 139.8h2.0v2.0h-2.0zM264.6 139.8h2.0v2.0h-2.0zM265.2 139.6h2.4v2.4h-2.4zM265.4 140.6h2.0v2.0h-2.0zM264.4 141.2h2.4v2.4h-2.4zM266.2 142.2h2.0v2.0h-2.0zM265.5 142.3h1.7v1.7h-1.7zM267.1 143.2h1.7v1.7h-1.7zM266.8 142.8h2.4v2.4h-2.4zM266.2 143.8h2.0v2.0h-2.0zM266.8 143.6h2.4v2.4h-2.4zM266.8 144.4h2.4v2.4h-2.4zM266.2 145.4h2.0v2.0h-2.0zM267.1 144.8h1.7v1.7h-1.7zM266.8 144.4h2.4v2.4h-2.4zM267.8 143.8h2.0v2.0h-2.0zM267.6 143.6h2.4v2.4h-2.4zM268.6 143.8h2.0v2.0h-2.0zM268.4 144.4h2.4v2.4h-2.4zM269.4 143.0h2.0v2.0h-2.0zM269.4 143.8h2.0v2.0h-2.0zM271.0 143.8h2.0v2.0h-2.0zM270.2 143.0h2.0v2.0h-2.0zM271.1 142.3h1.7v1.7h-1.7zM271.0 142.2h2.0v2.0h-2.0zM271.6 141.2h2.4v2.4h-2.4zM271.9 141.6h1.7v1.7h-1.7zM272.6 142.2h2.0v2.0h-2.0zM272.6 142.2h2.0v2.0h-2.0zM271.6 140.4h2.4v2.4h-2.4zM271.8 140.6h2.0v2.0h-2.0zM273.4 139.8h2.0v2.0h-2.0zM272.8 140.0h1.7v1.7h-1.7zM271.9 139.2h1.7v1.7h-1.7zM271.8 139.0h2.0v2.0h-2.0zM271.8 138.2h2.0v2.0h-2.0zM271.8 138.2h2.0v2.0h-2.0zM272.4 136.4h2.4v2.4h-2.4zM272.6 136.6h2.0v2.0h-2.0zM273.2 135.6h2.4v2.4h-2.4zM273.5 136.0h1.7v1.7h-1.7zM278.2 186.2h2.0v2.0h-2.0zM278.3 186.3h1.7v1.7h-1.7zM278.2 185.4h2.0v2.0h-2.0zM279.1 185.6h1.7v1.7h-1.7zM279.9 185.6h1.7v1.7h-1.7zM279.8 185.4h2.0v2.0h-2.0zM280.8 184.8h1.7v1.7h-1.7zM280.4 184.4h2.4v2.4h-2.4zM281.2 184.4h2.4v2.4h-2.4zM281.4 183.8h2.0v2.0h-2.0zM282.2 183.8h2.0v2.0h-2.0zM282.3 184.0h1.7v1.7h-1.7zM282.8 183.6h2.4v2.4h-2.4zM283.1 184.0h1.7v1.7h-1.7zM283.0 183.0h2.0v2.0h-2.0zM283.0 183.8h2.0v2.0h-2.0zM283.8 183.8h2.0v2.0h-2.0zM283.9 184.0h1.7v1.7h-1.7zM284.8 182.3h1.7v1.7h-1.7zM285.4 183.8h2.0v2.0h-2.0zM285.2 182.8h2.4v2.4h-2.4zM286.2 183.0h2.0v2.0h-2.0zM286.2 182.2h2.0v2.0h-2.0zM286.8 182.0h2.4v2.4h-2.4zM287.8 182.2h2.0v2.0h-2.0zM287.8 182.2h2.0v2.0h-2.0zM288.6 181.4h2.0v2.0h-2.0zM288.4 181.2h2.4v2.4h-2.4zM270.8 225.2h2.4v2.4h-2.4zM270.8 225.2h2.4v2.4h-2.4zM271.9 224.8h1.7v1.7h-1.7zM271.8 224.6h2.0v2.0h-2.0zM272.4 223.6h2.4v2.4h-2.4zM272.6 224.6h2.0v2.0h-2.0zM273.5 224.0h1.7v1.7h-1.7zM273.5 224.0h1.7v1.7h-1.7zM274.3 224.0h1.7v1.7h-1.7zM274.2 223.0h2.0v2.0h-2.0zM274.8 222.8h2.4v2.4h-2.4zM275.0 222.2h2.0v2.0h-2.0zM275.9 222.3h1.7v1.7h-1.7zM275.6 222.0h2.4v2.4h-2.4zM276.4 221.2h2.4v2.4h-2.4zM275.6 221.2h2.4v2.4h-2.4zM276.8 220.8h1.7v1.7h-1.7zM276.6 220.6h2.0v2.0h-2.0zM277.4 221.4h2.0v2.0h-2.0zM276.6 220.6h2.0v2.0h-2.0zM278.2 221.4h2.0v2.0h-2.0zM278.0 220.4h2.4v2.4h-2.4zM279.0 220.6h2.0v2.0h-2.0zM278.8 220.4h2.4v2.4h-2.4zM279.8 219.8h2.0v2.0h-2.0zM279.8 219.0h2.0v2.0h-2.0zM280.6 219.8h2.0v2.0h-2.0zM280.6 219.8h2.0v2.0h-2.0zM281.4 219.0h2.0v2.0h-2.0zM281.2 218.8h2.4v2.4h-2.4zM282.3 218.3h1.7v1.7h-1.7zM282.2 218.2h2.0v2.0h-2.0zM283.6 218.0h2.4v2.4h-2.4zM283.0 217.4h2.0v2.0h-2.0zM256.4 245.2h2.4v2.4h-2.4zM255.8 244.6h2.0v2.0h-2.0zM256.6 245.4h2.0v2.0h-2.0zM257.5 244.8h1.7v1.7h-1.7zM256.6 243.8h2.0v2.0h-2.0zM258.3 245.6h1.7v1.7h-1.7zM257.2 243.6h2.4v2.4h-2.4zM258.2 243.8h2.0v2.0h-2.0zM258.2 243.8h2.0v2.0h-2.0zM257.4 242.2h2.0v2.0h-2.0zM258.2 243.0h2.0v2.0h-2.0zM259.0 243.0h2.0v2.0h-2.0zM259.8 243.0h2.0v2.0h-2.0zM258.2 241.4h2.0v2.0h-2.0zM258.2 241.4h2.0v2.0h-2.0zM259.0 240.6h2.0v2.0h-2.0zM259.0 241.4h2.0v2.0h-2.0zM260.6 242.2h2.0v2.0h-2.0zM259.6 240.4h2.4v2.4h-2.4zM259.6 239.6h2.4v2.4h-2.4zM261.4 241.4h2.0v2.0h-2.0zM260.6 239.0h2.0v2.0h-2.0zM261.4 240.6h2.0v2.0h-2.0zM262.0 240.4h2.4v2.4h-2.4zM260.8 240.0h1.7v1.7h-1.7zM261.4 240.6h2.0v2.0h-2.0zM261.2 240.4h2.4v2.4h-2.4zM262.2 239.8h2.0v2.0h-2.0zM261.2 238.8h2.4v2.4h-2.4zM262.2 239.8h2.0v2.0h-2.0zM263.0 239.8h2.0v2.0h-2.0zM263.0 239.8h2.0v2.0h-2.0zM262.2 238.2h2.0v2.0h-2.0zM263.1 238.3h1.7v1.7h-1.7zM262.8 237.2h2.4v2.4h-2.4zM262.8 238.0h2.4v2.4h-2.4zM263.9 237.6h1.7v1.7h-1.7zM263.6 236.4h2.4v2.4h-2.4zM264.4 238.0h2.4v2.4h-2.4zM264.4 236.4h2.4v2.4h-2.4zM264.8 236.8h1.7v1.7h-1.7zM264.4 236.4h2.4v2.4h-2.4zM212.8 297.5h1.7v1.7h-1.7zM211.8 298.2h2.0v2.0h-2.0zM212.0 298.3h1.7v1.7h-1.7zM211.8 299.8h2.0v2.0h-2.0zM212.4 298.8h2.4v2.4h-2.4zM212.8 299.1h1.7v1.7h-1.7zM214.3 298.3h1.7v1.7h-1.7zM213.6 299.1h1.7v1.7h-1.7zM214.3 298.3h1.7v1.7h-1.7zM214.2 300.6h2.0v2.0h-2.0zM214.3 299.9h1.7v1.7h-1.7zM214.2 300.6h2.0v2.0h-2.0zM214.8 300.4h2.4v2.4h-2.4zM214.8 301.2h2.4v2.4h-2.4zM215.0 301.4h2.0v2.0h-2.0zM215.2 302.3h1.7v1.7h-1.7zM215.8 301.4h2.0v2.0h-2.0zM216.6 300.6h2.0v2.0h-2.0zM216.0 301.5h1.7v1.7h-1.7zM216.6 300.6h2.0v2.0h-2.0zM216.0 301.5h1.7v1.7h-1.7zM217.4 301.4h2.0v2.0h-2.0zM216.6 302.2h2.0v2.0h-2.0zM216.4 301.2h2.4v2.4h-2.4zM218.2 302.2h2.0v2.0h-2.0zM218.0 301.2h2.4v2.4h-2.4zM217.4 303.0h2.0v2.0h-2.0zM219.0 302.2h2.0v2.0h-2.0zM219.8 301.4h2.0v2.0h-2.0zM218.0 303.6h2.4v2.4h-2.4zM219.8 303.8h2.0v2.0h-2.0zM219.8 303.0h2.0v2.0h-2.0zM220.8 302.3h1.7v1.7h-1.7zM222.3 311.1h1.7v1.7h-1.7zM222.0 310.8h2.4v2.4h-2.4zM222.2 311.0h2.0v2.0h-2.0zM222.2 311.0h2.0v2.0h-2.0z" fill="#fff"/>
<path d="M153.4 72.6h2.0v2.0h-2.0zM153.4 72.6h2.0v2.0h-2.0zM154.2 72.6h2.0v2.0h-2.0zM154.2 73.4h2.0v2.0h-2.0z" fill="#c8c4ee"/>
<path d="M192.0 214.3h1.7v1.7h-1.7zM191.6 214.0h2.4v2.4h-2.4zM193.2 214.8h2.4v2.4h-2.4zM192.6 213.4h2.0v2.0h-2.0zM194.2 214.2h2.0v2.0h-2.0zM193.2 213.2h2.4v2.4h-2.4zM194.8 214.0h2.4v2.4h-2.4zM194.2 213.4h2.0v2.0h-2.0zM195.2 212.8h1.7v1.7h-1.7zM195.8 213.4h2.0v2.0h-2.0zM196.8 213.6h1.7v1.7h-1.7zM196.0 212.8h1.7v1.7h-1.7zM196.4 211.6h2.4v2.4h-2.4zM197.4 213.4h2.0v2.0h-2.0zM198.2 211.8h2.0v2.0h-2.0zM197.4 211.8h2.0v2.0h-2.0zM199.0 212.6h2.0v2.0h-2.0zM199.0 211.8h2.0v2.0h-2.0zM199.8 211.0h2.0v2.0h-2.0zM199.8 211.0h2.0v2.0h-2.0zM200.6 211.8h2.0v2.0h-2.0zM200.8 211.2h1.7v1.7h-1.7zM201.2 210.0h2.4v2.4h-2.4zM201.4 211.8h2.0v2.0h-2.0zM202.0 210.8h2.4v2.4h-2.4zM202.2 211.0h2.0v2.0h-2.0zM203.2 210.3h1.7v1.7h-1.7zM203.0 209.4h2.0v2.0h-2.0zM203.6 209.2h2.4v2.4h-2.4zM203.6 210.0h2.4v2.4h-2.4zM204.0 209.6h1.7v1.7h-1.7zM204.4 210.0h2.4v2.4h-2.4zM204.6 209.4h2.0v2.0h-2.0zM204.4 208.4h2.4v2.4h-2.4zM205.6 208.8h1.7v1.7h-1.7zM205.2 209.2h2.4v2.4h-2.4zM207.2 209.6h1.7v1.7h-1.7zM206.2 208.6h2.0v2.0h-2.0zM207.8 208.6h2.0v2.0h-2.0zM207.2 208.0h1.7v1.7h-1.7zM207.8 207.8h2.0v2.0h-2.0zM207.6 207.6h2.4v2.4h-2.4zM208.6 207.0h2.0v2.0h-2.0zM208.4 206.8h2.4v2.4h-2.4zM210.2 207.8h2.0v2.0h-2.0zM210.3 208.0h1.7v1.7h-1.7zM211.2 207.2h1.7v1.7h-1.7zM211.0 207.0h2.0v2.0h-2.0zM211.8 206.2h2.0v2.0h-2.0zM211.6 206.0h2.4v2.4h-2.4zM212.4 206.0h2.4v2.4h-2.4zM212.6 205.4h2.0v2.0h-2.0zM212.6 204.6h2.0v2.0h-2.0zM213.6 205.6h1.7v1.7h-1.7zM213.4 205.4h2.0v2.0h-2.0zM213.2 205.2h2.4v2.4h-2.4zM214.2 204.6h2.0v2.0h-2.0zM214.2 204.6h2.0v2.0h-2.0zM214.8 203.6h2.4v2.4h-2.4zM214.2 203.8h2.0v2.0h-2.0zM215.6 203.6h2.4v2.4h-2.4zM215.0 203.0h2.0v2.0h-2.0zM215.8 202.2h2.0v2.0h-2.0zM216.8 203.2h1.7v1.7h-1.7zM216.6 202.2h2.0v2.0h-2.0zM217.4 203.0h2.0v2.0h-2.0zM218.2 202.2h2.0v2.0h-2.0zM218.2 202.2h2.0v2.0h-2.0z" fill="#e4e2fa"/>
<path d="M227.0 202.2h2.0v2.0h-2.0zM227.2 202.3h1.7v1.7h-1.7zM228.0 202.3h1.7v1.7h-1.7zM228.0 202.3h1.7v1.7h-1.7zM228.6 201.4h2.0v2.0h-2.0zM228.8 201.6h1.7v1.7h-1.7zM228.0 201.6h1.7v1.7h-1.7zM226.8 201.2h2.4v2.4h-2.4zM227.8 200.6h2.0v2.0h-2.0zM228.0 200.8h1.7v1.7h-1.7zM226.3 200.0h1.7v1.7h-1.7zM227.2 200.0h1.7v1.7h-1.7zM227.2 199.2h1.7v1.7h-1.7zM228.6 199.8h2.0v2.0h-2.0zM228.0 199.2h1.7v1.7h-1.7zM228.4 199.6h2.4v2.4h-2.4zM229.6 199.2h1.7v1.7h-1.7zM228.6 199.0h2.0v2.0h-2.0zM228.6 198.2h2.0v2.0h-2.0zM227.0 198.2h2.0v2.0h-2.0zM229.6 198.3h1.7v1.7h-1.7zM229.6 198.3h1.7v1.7h-1.7zM227.0 197.4h2.0v2.0h-2.0zM228.8 198.3h1.7v1.7h-1.7zM229.4 197.4h2.0v2.0h-2.0zM227.0 196.6h2.0v2.0h-2.0zM229.6 197.6h1.7v1.7h-1.7zM227.0 196.6h2.0v2.0h-2.0zM227.8 195.8h2.0v2.0h-2.0zM229.6 196.0h1.7v1.7h-1.7zM230.0 195.6h2.4v2.4h-2.4zM228.0 196.0h1.7v1.7h-1.7zM228.8 195.2h1.7v1.7h-1.7zM230.2 195.0h2.0v2.0h-2.0zM227.8 195.0h2.0v2.0h-2.0zM230.0 194.8h2.4v2.4h-2.4zM230.2 195.8h2.0v2.0h-2.0zM229.4 195.0h2.0v2.0h-2.0zM230.3 196.0h1.7v1.7h-1.7zM227.8 194.2h2.0v2.0h-2.0zM229.2 194.0h2.4v2.4h-2.4zM230.3 194.3h1.7v1.7h-1.7zM227.6 193.2h2.4v2.4h-2.4zM230.2 194.2h2.0v2.0h-2.0zM230.0 193.2h2.4v2.4h-2.4zM229.6 192.8h1.7v1.7h-1.7zM229.4 192.6h2.0v2.0h-2.0zM229.4 192.6h2.0v2.0h-2.0zM230.3 192.0h1.7v1.7h-1.7zM229.4 191.8h2.0v2.0h-2.0zM231.0 192.6h2.0v2.0h-2.0zM230.0 191.6h2.4v2.4h-2.4zM231.8 191.8h2.0v2.0h-2.0zM229.2 190.0h2.4v2.4h-2.4zM230.3 191.2h1.7v1.7h-1.7zM230.3 191.2h1.7v1.7h-1.7zM231.8 190.2h2.0v2.0h-2.0zM230.2 189.4h2.0v2.0h-2.0zM229.4 189.4h2.0v2.0h-2.0zM230.2 190.2h2.0v2.0h-2.0z" fill="#dcdcff"/>
<path d="M237.6 167.2h1.7v1.7h-1.7zM237.6 167.2h1.7v1.7h-1.7zM237.2 166.0h2.4v2.4h-2.4zM237.6 166.3h1.7v1.7h-1.7zM237.4 165.4h2.0v2.0h-2.0zM237.4 165.4h2.0v2.0h-2.0zM238.2 164.6h2.0v2.0h-2.0zM238.2 164.6h2.0v2.0h-2.0zM238.2 163.8h2.0v2.0h-2.0zM238.2 163.8h2.0v2.0h-2.0zM238.0 162.0h2.4v2.4h-2.4zM238.2 162.2h2.0v2.0h-2.0zM238.8 161.2h2.4v2.4h-2.4zM238.2 161.4h2.0v2.0h-2.0zM239.0 160.6h2.0v2.0h-2.0zM238.2 160.6h2.0v2.0h-2.0zM238.0 159.6h2.4v2.4h-2.4zM238.8 159.6h2.4v2.4h-2.4zM239.0 159.8h2.0v2.0h-2.0zM239.2 160.8h1.7v1.7h-1.7zM239.8 159.0h2.0v2.0h-2.0zM239.8 159.0h2.0v2.0h-2.0zM240.6 159.0h2.0v2.0h-2.0zM240.8 159.2h1.7v1.7h-1.7zM241.4 158.2h2.0v2.0h-2.0zM241.2 158.0h2.4v2.4h-2.4zM242.0 158.0h2.4v2.4h-2.4zM242.3 158.3h1.7v1.7h-1.7zM243.0 157.4h2.0v2.0h-2.0zM243.0 158.2h2.0v2.0h-2.0zM244.0 157.6h1.7v1.7h-1.7zM243.8 157.4h2.0v2.0h-2.0zM244.0 156.8h1.7v1.7h-1.7zM243.6 156.4h2.4v2.4h-2.4zM244.6 155.8h2.0v2.0h-2.0zM245.6 156.8h1.7v1.7h-1.7zM244.8 156.0h1.7v1.7h-1.7zM245.6 156.8h1.7v1.7h-1.7zM246.2 155.0h2.0v2.0h-2.0zM246.3 156.0h1.7v1.7h-1.7zM247.2 155.2h1.7v1.7h-1.7zM247.2 155.2h1.7v1.7h-1.7zM247.8 154.2h2.0v2.0h-2.0zM248.0 155.2h1.7v1.7h-1.7z" fill="#d4d8ff"/>
</g>
<path d="M0.6 317V0.6H393" fill="none" stroke="#050505" stroke-width="1.2"/>
</g></g>
<g transform="translate(535,17)"><g clip-path="url(#imclip)">
<rect x="-2" y="-2" width="397" height="321" fill="#020202"/>
<linearGradient id="gB" x1="0" y1="0" x2="0" y2="316" gradientUnits="userSpaceOnUse"><stop offset="0" stop-color="#444444"/><stop offset="0.3" stop-color="#505050"/><stop offset="0.5" stop-color="#868686"/><stop offset="1" stop-color="#909090"/></linearGradient>
<linearGradient id="gB2" x1="0" y1="0" x2="0" y2="316" gradientUnits="userSpaceOnUse"><stop offset="0" stop-color="#3c3c3c"/><stop offset="0.3" stop-color="#404040"/><stop offset="0.5" stop-color="#7c7c7c"/><stop offset="1" stop-color="#888888"/></linearGradient>
<linearGradient id="gA" x1="0" y1="0" x2="0" y2="316" gradientUnits="userSpaceOnUse"><stop offset="0" stop-color="#767676"/><stop offset="0.5" stop-color="#6e6e6e"/><stop offset="1" stop-color="#646464"/></linearGradient>
<g filter="url(#b1)">
<path d="M272.8 -25.0C275.9 -20.5 285.1 -7.5 291.7 2.0C298.3 11.5 306.3 21.6 312.7 32.0C319.1 42.4 325.0 53.6 330.2 64.4C335.4 75.2 339.7 85.9 343.7 96.6C347.7 107.3 350.9 118.6 354.0 128.8C357.1 139.0 360.1 148.0 362.0 158.0C363.9 168.0 365.0 178.4 365.1 189.0C365.2 199.6 363.9 210.6 362.5 221.4C361.1 232.2 359.1 242.9 356.5 253.6C353.9 264.3 350.6 275.4 347.0 285.8C343.4 296.2 338.7 306.1 334.6 316.0C330.5 325.9 324.7 340.2 322.7 345.0L-10 345L-10 -25Z" fill="#2c2c2c"/>
<path d="M258.1 -25.0C260.7 -20.5 268.4 -7.5 274.0 2.0C279.6 11.5 286.1 21.6 291.7 32.0C297.3 42.4 303.1 53.6 307.7 64.4C312.3 75.2 316.1 85.9 319.5 96.6C322.9 107.3 325.6 118.6 328.2 128.8C330.8 139.0 333.4 148.0 334.8 158.0C336.2 168.0 336.4 178.4 336.3 189.0C336.2 199.6 335.7 210.6 334.2 221.4C332.7 232.2 330.4 242.9 327.5 253.6C324.6 264.3 320.8 275.4 317.0 285.8C313.2 296.2 308.6 306.1 304.5 316.0C300.4 325.9 294.5 340.2 292.5 345.0L295.7 345.0C297.7 340.2 303.6 325.9 307.8 316.0C311.9 306.1 316.5 296.2 320.4 285.8C324.2 275.4 328.0 264.3 330.9 253.6C333.7 242.9 336.1 232.2 337.6 221.4C339.1 210.6 339.6 199.6 340.0 189.0C340.4 178.4 340.8 168.0 340.1 158.0C339.4 148.0 337.8 139.0 335.9 128.8C334.0 118.6 331.6 107.3 328.5 96.6C325.5 85.9 322.1 75.2 317.7 64.4C313.4 53.6 308.0 42.4 302.4 32.0C296.8 21.6 289.8 11.5 284.0 2.0C278.2 -7.5 270.2 -20.5 267.4 -25.0Z" fill="url(#gA)"/>
<path d="M268.6 -25.0C271.4 -20.5 279.4 -7.5 285.2 2.0C291.0 11.5 298.0 21.6 303.6 32.0C309.2 42.4 314.6 53.6 318.9 64.4C323.3 75.2 326.7 85.9 329.7 96.6C332.8 107.3 335.2 118.6 337.1 128.8C339.0 139.0 340.6 148.0 341.3 158.0C342.0 168.0 341.6 178.4 341.2 189.0C340.8 199.6 340.3 210.6 338.8 221.4C337.3 232.2 334.9 242.9 332.1 253.6C329.2 264.3 325.4 275.4 321.6 285.8C317.7 296.2 313.1 306.1 308.9 316.0C304.8 325.9 298.9 340.2 296.9 345.0" fill="none" stroke="#2c2c2c" stroke-width="1.6"/>
<path d="M263.3 -25.0C266.4 -20.5 275.6 -7.5 282.2 2.0C288.8 11.5 296.8 21.6 303.2 32.0C309.6 42.4 315.5 53.6 320.7 64.4C325.9 75.2 330.2 85.9 334.2 96.6C338.2 107.3 341.4 118.6 344.5 128.8C347.6 139.0 350.6 148.0 352.5 158.0C354.4 168.0 355.5 178.4 355.6 189.0C355.7 199.6 354.4 210.6 353.0 221.4C351.6 232.2 349.6 242.9 347.0 253.6C344.4 264.3 341.1 275.4 337.5 285.8C333.9 296.2 329.2 306.1 325.1 316.0C321.0 325.9 315.2 340.2 313.2 345.0" fill="none" stroke="url(#gB2)" stroke-width="3"/>
<path d="M270.2 -25.0C273.3 -20.5 282.4 -7.5 289.1 2.0C295.7 11.5 303.7 21.6 310.1 32.0C316.5 42.4 322.4 53.6 327.6 64.4C332.8 75.2 337.1 85.9 341.1 96.6C345.1 107.3 348.3 118.6 351.4 128.8C354.4 139.0 357.5 148.0 359.4 158.0C361.2 168.0 362.4 178.4 362.5 189.0C362.6 199.6 361.3 210.6 359.9 221.4C358.5 232.2 356.5 242.9 353.9 253.6C351.3 264.3 348.0 275.4 344.4 285.8C340.8 296.2 336.1 306.1 332.0 316.0C327.9 325.9 322.1 340.2 320.1 345.0" fill="none" stroke="url(#gB)" stroke-width="3"/>
<path d="M258.1 -25.0C260.7 -20.5 268.4 -7.5 274.0 2.0C279.6 11.5 286.1 21.6 291.7 32.0C297.3 42.4 303.1 53.6 307.7 64.4C312.3 75.2 316.1 85.9 319.5 96.6C322.9 107.3 325.6 118.6 328.2 128.8C330.8 139.0 333.4 148.0 334.8 158.0C336.2 168.0 336.4 178.4 336.3 189.0C336.2 199.6 335.7 210.6 334.2 221.4C332.7 232.2 330.4 242.9 327.5 253.6C324.6 264.3 320.8 275.4 317.0 285.8C313.2 296.2 308.6 306.1 304.5 316.0C300.4 325.9 294.5 340.2 292.5 345.0L-10 345L-10 -25Z" fill="#151515"/>
<path d="M248.8 -25.0C251.5 -20.5 259.3 -7.5 265.0 2.0C270.7 11.5 277.5 21.6 283.0 32.0C288.6 42.4 293.8 53.6 298.3 64.4C302.8 75.2 306.6 85.9 309.9 96.6C313.3 107.3 316.1 118.6 318.5 128.8C321.0 139.0 323.2 148.0 324.7 158.0C326.2 168.0 327.2 178.4 327.4 189.0C327.5 199.6 327.1 210.6 325.8 221.4C324.4 232.2 322.2 242.9 319.2 253.6C316.2 264.3 312.4 275.4 308.0 285.8C303.6 296.2 297.7 306.1 292.6 316.0C287.6 325.9 280.4 340.2 277.9 345.0" fill="none" stroke="#222222" stroke-width="6" stroke-dasharray="3 7 5 4 2 8"/>
<path d="M237.4 -25.0C240.2 -20.5 248.2 -7.5 254.0 2.0C259.8 11.5 266.9 21.6 272.4 32.0C277.9 42.4 282.6 53.6 286.9 64.4C291.2 75.2 295.1 85.9 298.4 96.6C301.7 107.3 304.5 118.6 306.9 128.8C309.3 139.0 311.0 148.0 312.6 158.0C314.2 168.0 315.9 178.4 316.4 189.0C316.8 199.6 316.6 210.6 315.3 221.4C314.1 232.2 311.9 242.9 308.9 253.6C305.8 264.3 302.0 275.4 297.0 285.8C292.0 296.2 284.7 306.1 278.8 316.0C272.9 325.9 264.2 340.2 261.3 345.0L-10 345L-10 -25Z" fill="#494949"/>
</g>
<g filter="url(#b4)">
<ellipse cx="255" cy="220" rx="40" ry="55" fill="#606060"/>
<ellipse cx="60" cy="60" rx="60" ry="50" fill="#555555"/>
<ellipse cx="225" cy="55" rx="50" ry="40" fill="#4c4c4c"/>
<ellipse cx="150" cy="285" rx="70" ry="28" fill="#5b5b5b"/>
<ellipse cx="40" cy="250" rx="50" ry="50" fill="#5a5a5a"/>
<ellipse cx="280" cy="150" rx="18" ry="40" fill="#5e5e5e"/>
<ellipse cx="170" cy="20" rx="60" ry="18" fill="#5a5a5a"/>
</g>
<g filter="url(#b1)" fill="none" stroke-linecap="round">
<path d="M90.0 17.0C91.1 18.8 94.1 22.7 96.6 28.0C99.1 33.3 103.4 39.3 105.0 49.0C106.6 58.7 105.5 74.5 106.0 86.0C106.5 97.5 107.0 107.3 108.0 118.0C109.0 128.7 111.3 140.5 112.0 150.0C112.7 159.5 111.8 166.7 112.0 175.0C112.2 183.3 112.8 195.8 113.0 200.0" stroke="#343434" stroke-width="4.6"/>
<path d="M113.0 200.0C113.7 208.8 115.7 233.0 117.0 253.0C118.3 273.0 120.3 308.8 121.0 320.0" stroke="#4a4a4a" stroke-width="2.5"/>
<path d="M111.6 210.0C112.5 217.3 115.4 235.3 117.0 253.6C118.6 271.9 120.5 308.9 121.2 320.0" stroke="#8a8a8a" stroke-width="1.3"/>
<path d="M283.0 60.0C279.8 65.7 268.7 85.5 264.0 94.0C259.3 102.5 258.0 104.5 255.0 111.0C252.0 117.5 247.5 129.3 246.0 133.0" stroke="#3c3c3c" stroke-width="3"/>
<path d="M215.0 108.0C217.2 108.3 225.8 109.7 228.0 110.0" stroke="#444" stroke-width="6"/>
<path d="M222.0 60.0C223.7 60.3 230.3 61.7 232.0 62.0" stroke="#484848" stroke-width="5"/>
<path d="M215.0 110.0C212.5 111.3 202.5 116.7 200.0 118.0" stroke="#4a4a4a" stroke-width="3"/>
<path d="M68.0 187.0C69.2 189.2 74.7 195.3 75.0 200.0C75.3 204.7 70.8 212.5 70.0 215.0" stroke="#494949" stroke-width="8"/>
<path d="M70.0 235.0C72.5 236.7 80.0 243.7 85.0 245.0C90.0 246.3 97.5 243.3 100.0 243.0" stroke="#4a4a4a" stroke-width="8"/>
<path d="M22.0 205.0C23.3 205.8 28.7 209.2 30.0 210.0" stroke="#4b4b4b" stroke-width="8"/>
<path d="M196.0 230.0C197.3 231.0 201.3 235.5 204.0 236.0C206.7 236.5 210.7 233.5 212.0 233.0" stroke="#505050" stroke-width="2.5"/>
<path d="M245.0 250.0C245.8 251.3 249.2 256.7 250.0 258.0" stroke="#4c4c4c" stroke-width="2.5"/>
<path d="M225.0 215.0C226.2 216.2 230.8 220.8 232.0 222.0" stroke="#505050" stroke-width="2.5"/>
<path d="M150.0 290.0C150.3 293.7 151.7 308.3 152.0 312.0" stroke="#484848" stroke-width="2.5"/>
<path d="M95.0 300.0C98.3 300.8 111.7 304.2 115.0 305.0" stroke="#4c4c4c" stroke-width="3"/>
<path d="M73.0 67.6C75.0 66.3 81.1 63.0 85.0 60.0C88.9 57.0 94.7 51.2 96.6 49.4" stroke="#858585" stroke-width="1.8"/>
<path d="M96.6 79.4C95.7 82.3 91.4 91.2 91.0 96.6C90.6 102.0 92.8 107.3 94.4 111.6C96.1 115.9 99.8 120.5 100.9 122.3" stroke="#747474" stroke-width="1.8"/>
<path d="M268.0 296.0C270.0 295.2 276.3 293.5 280.0 291.0C283.7 288.5 288.3 282.7 290.0 281.0" stroke="#a0a0a0" stroke-width="2"/>
<path d="M103.0 44.0C104.2 46.3 107.7 53.2 110.0 58.0C112.3 62.8 115.8 70.5 117.0 73.0" stroke="#6e6e6e" stroke-width="3"/>
</g>
<g filter="url(#b1)" fill="#e8e8e8">
<ellipse cx="89" cy="4" rx="2.6" ry="3" fill="#e0e0e0"/>
<ellipse cx="102.6" cy="40" rx="4" ry="5.5" fill="#ffffff"/>
<ellipse cx="104.5" cy="99" rx="2.3" ry="2.3" fill="#e0e0e0"/>
<ellipse cx="117.6" cy="160" rx="3.5" ry="6" fill="#ffffff"/>
<ellipse cx="108" cy="152" rx="2.5" ry="2.5" fill="#c0c0c0"/>
<ellipse cx="116" cy="170" rx="4" ry="3" fill="#e0e0e0"/>
<ellipse cx="282" cy="40" rx="3" ry="3.5" fill="#d0d0d0"/>
<ellipse cx="281" cy="79" rx="2.6" ry="2.6" fill="#d8d8d8"/>
<ellipse cx="274.5" cy="88" rx="3" ry="3" fill="#d8d8d8"/>
<ellipse cx="267" cy="95" rx="3" ry="3" fill="#c8c8c8"/>
<ellipse cx="264" cy="113" rx="3.6" ry="3.6" fill="#e0e0e0"/>
<ellipse cx="284" cy="142" rx="3.5" ry="2.5" fill="#c8c8c8"/>
<ellipse cx="305.5" cy="153" rx="3" ry="4" fill="#d0d0d0"/>
<ellipse cx="275" cy="155" rx="3" ry="3" fill="#c0c0c0"/>
<ellipse cx="327" cy="213" rx="2.6" ry="8" fill="#c4c4c4"/>
<ellipse cx="310" cy="189" rx="2.2" ry="2.2" fill="#a8a8a8"/>
<ellipse cx="257" cy="290" rx="2.8" ry="2.8" fill="#a8a8a8"/>
<ellipse cx="42" cy="251" rx="2" ry="2" fill="#8a8a8a"/>
<ellipse cx="236" cy="13" rx="2" ry="2" fill="#8a8a8a"/>
</g>
<clipPath id="bwclip"><path d="M133.2 236.3L125.5 235.7L121.6 234.5L118.6 233.0L116.0 231.0L114.3 229.0L113.1 226.2L112.6 223.5L112.7 218.8L113.7 212.2L124.9 173.0L127.1 161.8L128.0 153.5L128.3 147.2L127.6 137.0L124.5 111.6L122.5 91.5L122.0 82.2L122.5 75.8L123.5 72.2L124.8 70.0L126.8 68.0L129.6 66.5L149.2 62.4L159.4 59.5L162.5 59.2L165.5 59.4L172.4 61.8L179.3 65.8L188.2 73.0L194.2 79.3L198.2 84.5L202.3 91.2L204.8 96.8L211.8 115.0L214.8 120.2L217.2 123.1L220.2 125.7L235.3 136.0L243.5 143.4L250.8 152.3L260.0 165.8L261.9 169.8L262.2 173.5L260.9 176.5L257.8 180.0L243.0 192.0L226.5 203.3L217.2 208.6L209.2 212.6L185.5 222.8L165.8 229.9L149.6 234.2L142.2 235.5L133.2 236.3Z"/></clipPath>
<g clip-path="url(#bwclip)"><g filter="url(#bwbl)">
<path d="M134.8 237.5L126.0 237.3L119.0 235.0L113.2 230.2L111.2 225.2L111.2 218.8L112.2 212.2L123.4 175.2L127.2 154.0L126.9 137.0L121.2 92.0L121.0 75.5L123.7 68.8L129.8 64.7L148.8 61.2L158.0 58.2L165.8 58.0L172.0 60.0L180.0 64.5L188.5 71.5L195.3 78.5L200.0 85.0L204.0 92.2L212.3 114.2L215.1 119.2L222.0 125.9L238.5 137.0L246.3 144.8L261.3 165.0L263.5 170.0L263.5 174.8L262.3 177.2L258.2 181.5L248.2 189.5L228.0 203.3L216.2 209.8L191.8 221.1L172.0 228.8L150.5 235.3L134.8 237.5Z" fill="#38348c"/>
<path d="M139.2 232.5L130.0 232.3L123.0 230.3L118.5 226.9L117.4 224.8L116.9 222.2L117.2 214.5L118.4 207.2L127.9 169.8L130.1 154.2L130.2 146.2L127.3 119.8L126.1 101.5L126.4 80.2L128.1 74.0L129.5 72.2L131.2 71.2L160.0 64.0L164.5 63.8L171.2 65.8L178.0 69.5L186.8 76.2L192.8 82.2L196.5 87.0L200.4 93.2L210.1 116.0L213.3 121.5L216.2 125.0L220.0 128.4L233.4 137.8L240.9 144.8L247.0 152.5L252.4 160.8L257.2 169.0L257.9 172.8L257.0 175.0L254.1 178.5L241.1 190.5L226.6 201.5L214.3 208.8L205.5 213.0L186.2 221.0L171.2 226.3L151.5 231.3L139.2 232.5Z" fill="#363493"/>
<path d="M147.8 227.8L139.2 227.7L129.5 226.4L124.5 224.1L123.4 222.8L122.8 220.8L122.8 213.5L124.2 201.5L131.4 168.2L133.1 155.0L133.2 147.5L129.8 118.8L130.1 102.0L131.1 91.8L132.7 81.0L133.5 78.5L134.8 77.0L138.7 75.5L159.5 70.2L163.8 69.7L169.9 71.5L177.5 75.5L185.3 81.2L191.6 87.5L198.6 97.8L207.9 117.8L211.4 123.8L218.0 131.1L230.8 140.4L237.5 147.0L242.9 154.2L246.9 161.0L251.1 169.2L251.7 171.8L250.6 174.2L244.6 181.5L234.4 192.2L224.7 200.5L214.2 207.2L201.8 213.1L176.0 222.5L163.0 225.8L147.8 227.8Z" fill="#333a9f"/>
<path d="M151.2 224.3L142.0 223.8L132.2 221.9L129.0 220.5L127.8 218.0L127.5 208.8L128.3 198.2L130.5 184.2L134.2 167.5L135.8 154.8L135.7 147.5L132.4 125.0L132.1 119.0L132.5 111.0L135.7 91.5L138.7 81.8L140.5 80.5L145.2 79.0L159.8 75.2L163.5 74.8L168.8 76.2L176.2 79.9L183.8 85.1L190.0 91.0L196.5 100.2L206.5 120.2L210.5 126.8L216.1 133.2L228.5 142.6L234.8 149.0L241.6 159.5L245.4 167.5L246.3 171.0L245.6 173.0L240.9 180.0L230.9 192.2L222.9 199.8L213.4 206.2L201.8 211.7L177.2 220.2L164.0 223.2L151.2 224.3Z" fill="#3049aa"/>
<path d="M161.8 221.5L147.0 221.3L140.2 220.0L133.2 217.8L132.0 216.5L131.5 214.8L130.9 203.0L131.9 189.5L136.2 168.2L137.8 156.0L137.8 147.8L134.5 129.8L133.9 120.8L134.9 110.2L137.3 99.8L140.7 88.8L143.0 84.4L151.2 81.4L162.8 78.9L169.0 80.4L177.5 84.6L184.5 89.7L189.8 95.0L196.5 104.9L205.4 122.2L209.8 129.3L214.6 135.0L226.5 144.2L232.3 150.2L238.2 159.8L241.5 167.0L242.2 170.0L241.4 172.8L237.2 180.0L229.4 191.0L222.3 198.5L214.3 204.5L203.5 209.9L182.0 217.3L170.0 220.4L161.8 221.5Z" fill="#2f63b1"/>
<path d="M161.8 219.5L155.5 219.3L148.0 218.4L141.2 216.5L136.6 214.5L135.6 213.2L135.0 211.2L133.9 198.2L134.8 185.5L138.4 168.0L139.9 155.2L139.7 147.0L136.7 132.5L135.8 126.0L135.8 118.8L137.3 110.2L141.7 97.2L146.1 88.0L147.9 86.8L151.8 85.4L162.5 82.9L168.5 84.3L176.5 87.9L183.5 92.8L188.8 98.0L196.5 109.3L204.7 125.0L210.0 133.2L214.0 137.5L225.4 146.5L231.0 153.0L235.6 161.5L238.3 169.5L237.6 172.2L233.6 180.2L227.1 190.8L221.1 197.8L213.4 203.8L202.8 209.0L181.2 216.1L169.8 218.7L161.8 219.5Z" fill="#3584b3"/>
<path d="M163.0 217.5L157.0 217.1L150.2 215.8L144.8 214.0L139.8 211.5L138.6 209.5L137.6 205.0L136.6 194.0L137.3 184.2L141.1 165.0L142.1 154.5L141.7 146.5L137.6 127.8L137.4 121.0L138.2 115.9L139.9 110.0L143.8 101.2L149.2 91.5L153.0 89.1L162.2 87.0L168.0 88.2L175.8 91.3L182.2 95.6L187.8 100.9L195.4 111.5L203.6 127.0L208.8 135.2L212.5 139.2L222.5 147.2L228.2 153.8L232.4 162.0L234.5 169.2L233.9 172.0L229.6 182.2L224.9 190.8L219.7 197.2L212.6 203.0L202.2 208.1L180.8 214.8L171.0 216.8L163.0 217.5Z" fill="#429eac"/>
<path d="M168.2 215.5L161.5 215.5L155.2 214.4L149.6 212.5L143.4 209.2L142.1 207.8L141.1 205.2L139.2 194.0L139.5 184.0L143.4 164.2L144.2 153.5L143.6 146.0L139.3 128.5L139.1 123.5L139.5 119.0L142.8 109.9L146.8 102.5L151.2 96.0L154.9 92.8L161.5 91.1L167.8 92.0L174.8 94.5L181.5 98.7L186.8 103.8L194.0 113.2L207.3 137.0L210.8 140.8L220.0 148.2L225.2 154.3L228.9 161.2L230.9 168.5L230.5 171.2L227.1 181.5L223.4 189.8L218.8 196.2L213.0 201.4L207.2 204.8L200.2 207.7L179.2 213.8L168.2 215.5Z" fill="#54ae98"/>
<path d="M169.2 213.8L163.0 213.6L157.2 212.5L152.2 210.5L146.2 206.8L144.6 204.8L143.2 200.8L141.6 191.5L141.8 183.2L145.5 164.0L146.2 153.0L145.6 145.5L141.0 128.8L141.1 120.5L143.7 113.2L150.0 103.7L156.2 97.0L158.5 95.7L161.2 95.2L167.5 95.8L174.0 97.8L180.5 101.5L186.0 106.6L193.6 116.5L205.9 138.8L209.3 142.5L217.9 149.5L222.7 155.2L225.7 161.2L227.5 168.0L224.6 181.5L221.7 189.2L217.7 195.5L212.4 200.5L207.2 203.7L200.2 206.5L190.5 208.8L179.0 212.4L169.2 213.8Z" fill="#71b87f"/>
<path d="M171.2 212.0L165.2 212.0L159.5 210.8L154.5 208.7L149.4 205.0L147.4 202.8L145.5 198.5L143.8 189.5L144.4 180.5L147.8 163.0L148.3 152.5L147.5 145.0L142.7 128.8L142.7 121.5L145.2 115.1L151.2 107.0L157.5 101.2L160.0 99.8L162.5 99.2L168.5 99.6L174.8 101.6L180.2 104.8L186.2 110.4L192.7 118.8L204.2 140.3L207.8 144.2L216.0 151.0L220.0 156.0L222.7 161.5L224.1 167.5L222.3 181.0L220.1 188.5L216.8 194.5L212.2 199.2L207.8 202.3L200.5 205.3L190.0 207.6L179.0 211.0L171.2 212.0Z" fill="#94be6a"/>
<path d="M179.0 209.5L168.2 210.4L163.5 209.8L159.0 208.3L155.0 206.0L150.9 202.2L149.1 199.5L147.2 194.8L146.1 188.8L146.5 180.5L149.9 163.2L150.4 152.0L149.5 144.5L144.4 129.0L144.3 122.5L146.9 116.5L152.8 109.5L158.8 104.7L164.0 102.9L170.8 103.5L176.8 105.8L182.0 109.5L187.4 115.0L192.0 121.5L202.6 141.8L206.0 145.7L214.0 152.4L217.4 156.8L219.7 161.5L220.9 167.0L220.1 180.5L218.7 187.5L216.0 193.2L212.1 197.8L207.8 201.0L200.9 204.0L187.5 206.9L179.0 209.5Z" fill="#b6bd5d"/>
<path d="M171.5 208.8L167.2 208.6L163.0 207.7L159.2 206.0L156.5 204.0L152.9 200.2L150.4 196.0L149.1 192.2L148.2 187.2L148.7 180.8L152.0 163.8L152.4 151.5L151.4 143.8L146.2 129.0L146.0 123.2L148.6 117.8L154.5 111.5L160.2 107.5L165.8 106.2L171.0 106.6L176.5 108.7L181.5 112.2L186.8 117.4L191.5 124.8L200.9 143.2L204.2 147.2L212.2 154.0L215.1 157.8L217.3 163.0L218.2 169.0L218.0 181.0L216.7 187.8L214.2 193.2L210.0 197.8L205.9 200.5L199.7 203.0L187.2 205.4L178.2 208.1L171.5 208.8Z" fill="#c3b55a"/>
<path d="M174.8 206.5L170.0 206.7L165.8 206.1L162.2 204.9L159.0 203.0L155.4 199.2L152.9 195.2L151.6 192.0L150.6 187.2L151.0 181.2L154.4 164.0L154.7 151.0L153.6 143.2L148.3 128.5L148.1 124.0L150.3 119.2L155.4 114.0L160.8 110.3L165.5 109.0L170.2 109.2L175.4 111.0L180.0 114.1L184.8 118.8L189.8 126.2L199.1 144.8L202.2 148.6L210.3 155.5L212.8 158.7L214.5 162.8L215.5 167.8L215.7 180.0L214.9 186.5L212.9 191.5L209.5 195.8L205.8 198.5L200.0 201.0L189.2 202.9L174.8 206.5Z" fill="#c6b15c"/>
<path d="M173.5 203.8L166.2 203.2L163.2 202.2L160.6 200.5L157.6 197.2L155.4 193.8L153.5 186.8L153.9 181.5L157.2 164.5L157.6 150.5L156.6 143.2L151.4 129.0L151.0 124.8L152.8 120.8L157.2 116.2L162.0 113.0L166.0 111.9L170.0 112.2L174.3 113.8L178.5 116.6L182.9 121.0L187.3 127.8L196.7 146.5L199.8 150.2L207.8 157.2L210.3 160.2L211.9 164.2L212.7 169.5L212.9 180.0L212.0 186.2L210.2 190.5L207.0 194.2L203.6 196.5L198.8 198.4L189.0 200.1L178.0 203.1L173.5 203.8Z" fill="#caa961"/>
<path d="M173.5 200.5L167.2 200.1L162.7 198.0L158.4 192.5L156.8 186.8L157.0 182.2L160.4 164.8L160.8 150.2L159.7 142.2L154.8 128.8L154.3 125.5L155.5 122.6L159.2 118.8L163.0 116.1L166.2 115.2L169.5 115.4L173.2 116.9L177.0 119.6L180.6 123.2L184.6 129.5L194.0 148.2L197.4 152.5L205.2 159.3L207.3 161.8L208.8 165.0L209.5 169.5L209.6 179.2L209.0 184.8L207.6 188.5L204.9 191.8L201.9 193.8L197.8 195.3L188.2 196.9L173.5 200.5Z" fill="#d09d6a"/>
<path d="M174.5 195.5L169.8 195.6L166.2 194.4L163.2 191.0L161.7 186.8L161.9 183.0L163.8 174.5L165.3 165.0L165.6 150.0L164.5 141.2L159.6 126.5L160.2 124.8L162.1 122.8L164.8 120.8L166.8 120.2L169.0 120.4L171.5 121.6L177.0 126.6L180.7 132.5L189.2 149.9L193.8 155.7L202.7 163.8L203.9 166.0L204.6 169.2L204.5 182.0L203.6 185.5L201.7 188.0L196.2 190.7L187.0 192.2L174.5 195.5Z" fill="#d69273"/>
<path d="M173.0 190.8L170.5 190.7L168.8 190.0L167.2 188.1L166.6 185.8L169.8 168.0L170.5 159.8L170.5 149.5L169.9 143.2L165.3 128.2L165.8 126.5L167.5 125.6L170.2 126.7L173.7 130.2L185.2 152.5L190.0 158.8L198.5 166.5L199.4 168.2L199.8 170.8L199.8 180.8L199.1 183.2L197.8 184.8L194.5 186.1L186.2 187.4L173.0 190.8Z" fill="#da8c78"/>
<path d="M175.2 185.3L172.8 185.2L172.0 183.5L174.8 167.2L175.6 152.0L176.5 149.2L178.0 150.4L185.8 161.4L194.1 169.2L195.0 171.8L195.1 177.2L194.6 180.0L193.0 181.3L181.5 183.5L175.2 185.3Z" fill="#dc8b7a"/>
<path d="M179.8 179.8L177.8 179.4L177.3 177.5L179.2 164.5L179.8 163.0L180.5 162.5L182.0 163.3L190.0 170.8L191.0 172.5L191.2 174.8L190.8 176.7L189.6 177.8L179.8 179.8Z" fill="#dd8b7b"/>
<path d="M183.8 175.5L182.0 175.3L181.3 174.0L181.8 171.0L183.0 169.8L185.3 171.0L187.0 173.2L186.3 174.8L183.8 175.5Z" fill="#de8a7c"/>
</g></g>
<g clip-path="url(#bwclip)"><g filter="url(#b2)">
<ellipse cx="173" cy="134" rx="8" ry="18" fill="#b44a4a" transform="rotate(-12 173 134)"/>
<ellipse cx="171" cy="129" rx="4" ry="5" fill="#8a6472"/>
<ellipse cx="180" cy="151" rx="4" ry="5" fill="#a83c3c"/>
<ellipse cx="177.5" cy="190.7" rx="4.5" ry="5.5" fill="#b04840"/>
<ellipse cx="213" cy="180.5" rx="3" ry="3" fill="#b85048"/>
</g><g filter="url(#b1)" fill="none" stroke-linecap="round">
<path d="M118.0 75.0C120.0 76.5 126.0 80.5 130.0 84.0C134.0 87.5 138.8 92.8 142.0 96.0C145.2 99.2 148.2 102.2 149.5 103.5" stroke="#b8b4f6" stroke-width="4.5"/>
<path d="M149.5 103.5C150.1 104.2 152.4 107.2 153.0 108.0" stroke="#9ad8ee" stroke-width="3"/>
<path d="M137.0 220.0C137.5 218.7 139.5 213.3 140.0 212.0" stroke="#a8e4f4" stroke-width="3.2"/>
<path d="M126.0 176.0C126.2 177.3 127.2 182.7 127.5 184.0" stroke="#8a86dc" stroke-width="4"/>
<path d="M125.0 165.0C124.8 166.2 124.2 170.8 124.0 172.0" stroke="#c0bcf0" stroke-width="4"/>
<circle cx="206.8" cy="130.8" r="2" fill="#c0d8ff"/>
<circle cx="247.5" cy="175.4" r="2.6" fill="#8c8ce0"/>
</g></g>
<rect x="0" y="0" width="393" height="317" filter="url(#nzL)" style="mix-blend-mode:soft-light" opacity="0.2"/>
<rect x="0" y="0" width="393" height="317" filter="url(#nzH)" style="mix-blend-mode:soft-light" opacity="0.08"/>
<path d="M174.0 210.3L168.2 210.4L163.5 209.8L159.0 208.3L155.0 206.0L150.9 202.2L149.1 199.5L147.2 194.8L146.1 188.8L146.0 185.2L146.5 180.5L148.6 171.5L149.9 163.2L150.3 158.2L150.4 152.0L150.0 147.5L149.5 144.5L144.4 129.0L144.0 125.8L144.3 122.5L145.2 119.8L146.9 116.5L152.8 109.5L156.0 106.7L158.8 104.7L161.5 103.4L164.0 102.9L167.2 102.9L170.8 103.5L176.8 105.8L182.0 109.5L187.4 115.0L189.8 118.0L192.0 121.5L200.3 138.0L202.6 141.8L206.0 145.7L214.0 152.4L217.4 156.8L219.7 161.5L220.9 167.0L221.0 170.5L220.1 180.5L218.7 187.5L217.6 190.2L216.0 193.2L212.1 197.8L207.8 201.0L200.9 204.0L187.5 206.9L179.0 209.5L174.0 210.3Z" fill="none" stroke="#3c50d0" stroke-width="0.95" transform="translate(0.5,0.8)"/>
<path d="M172.8 208.3L168.2 208.2L164.0 207.4L160.4 206.0L157.2 203.9L153.6 200.0L151.0 195.8L149.7 192.2L148.8 187.2L149.2 180.8L151.3 172.2L152.6 163.8L153.0 158.8L153.0 151.5L152.6 147.0L152.0 143.8L146.7 128.8L146.3 126.0L146.5 123.4L147.3 121.0L149.0 118.1L154.8 112.1L158.0 109.6L160.5 108.2L163.0 107.3L165.8 106.9L171.0 107.3L176.2 109.3L181.0 112.5L186.3 117.8L188.8 121.1L191.2 125.2L198.2 139.8L200.5 143.6L203.8 147.5L211.6 154.2L214.5 158.0L215.7 160.2L216.6 163.0L217.5 168.8L217.4 180.8L216.3 187.5L215.4 190.0L214.0 192.8L212.3 195.0L210.0 197.2L206.1 200.0L200.0 202.5L186.8 205.1L178.2 207.6L172.8 208.3Z" fill="none" stroke="#e8502c" stroke-width="0.95"/>
<path d="M0.6 317V0.6H393" fill="none" stroke="#262626" stroke-width="1.2"/>
</g></g>
<rect x="76" y="352" width="388" height="328" fill="#f2f2f2"/>
<line x1="76" x2="464" y1="617.0" y2="617.0" stroke="#bdbdbd" stroke-width="1.2"/>
<line x1="76" x2="464" y1="551.0" y2="551.0" stroke="#bdbdbd" stroke-width="1.2"/>
<line x1="76" x2="464" y1="485.0" y2="485.0" stroke="#bdbdbd" stroke-width="1.2"/>
<line x1="76" x2="464" y1="419.0" y2="419.0" stroke="#bdbdbd" stroke-width="1.2"/>
<rect x="77" y="353" width="385.7" height="327.6" fill="none" stroke="#fbfbfb" stroke-width="1.6"/><rect x="74.6" y="350.5" width="390.5" height="332.5" fill="none" stroke="#000" stroke-width="3"/>
<line x1="74.5" x2="74.5" y1="681.5" y2="676.5" stroke="#000" stroke-width="2.4"/>
<line x1="104.1" x2="104.1" y1="681.5" y2="679.3" stroke="#000" stroke-width="2.4"/>
<line x1="133.8" x2="133.8" y1="681.5" y2="676.5" stroke="#000" stroke-width="2.4"/>
<line x1="163.4" x2="163.4" y1="681.5" y2="679.3" stroke="#000" stroke-width="2.4"/>
<line x1="193.0" x2="193.0" y1="681.5" y2="676.5" stroke="#000" stroke-width="2.4"/>
<line x1="222.6" x2="222.6" y1="681.5" y2="679.3" stroke="#000" stroke-width="2.4"/>
<line x1="252.2" x2="252.2" y1="681.5" y2="676.5" stroke="#000" stroke-width="2.4"/>
<line x1="281.9" x2="281.9" y1="681.5" y2="679.3" stroke="#000" stroke-width="2.4"/>
<line x1="311.5" x2="311.5" y1="681.5" y2="676.5" stroke="#000" stroke-width="2.4"/>
<line x1="341.1" x2="341.1" y1="681.5" y2="679.3" stroke="#000" stroke-width="2.4"/>
<line x1="370.8" x2="370.8" y1="681.5" y2="676.5" stroke="#000" stroke-width="2.4"/>
<line x1="400.4" x2="400.4" y1="681.5" y2="679.3" stroke="#000" stroke-width="2.4"/>
<line x1="430.0" x2="430.0" y1="681.5" y2="676.5" stroke="#000" stroke-width="2.4"/>
<line x1="459.6" x2="459.6" y1="681.5" y2="679.3" stroke="#000" stroke-width="2.4"/>
<line x1="76" x2="81.0" y1="683.0" y2="683.0" stroke="#000" stroke-width="2.4"/>
<line x1="76" x2="78.2" y1="650.0" y2="650.0" stroke="#000" stroke-width="2.4"/>
<line x1="76" x2="81.0" y1="617.0" y2="617.0" stroke="#000" stroke-width="2.4"/>
<line x1="76" x2="78.2" y1="584.0" y2="584.0" stroke="#000" stroke-width="2.4"/>
<line x1="76" x2="81.0" y1="551.0" y2="551.0" stroke="#000" stroke-width="2.4"/>
<line x1="76" x2="78.2" y1="518.0" y2="518.0" stroke="#000" stroke-width="2.4"/>
<line x1="76" x2="81.0" y1="485.0" y2="485.0" stroke="#000" stroke-width="2.4"/>
<line x1="76" x2="78.2" y1="452.0" y2="452.0" stroke="#000" stroke-width="2.4"/>
<line x1="76" x2="81.0" y1="419.0" y2="419.0" stroke="#000" stroke-width="2.4"/>
<line x1="76" x2="78.2" y1="386.0" y2="386.0" stroke="#000" stroke-width="2.4"/>
<line x1="76" x2="81.0" y1="353.0" y2="353.0" stroke="#000" stroke-width="2.4"/>
<clipPath id="cclip"><rect x="76" y="349" width="391" height="336"/></clipPath><g clip-path="url(#cclip)">
<path d="M76.0 353.2C96.7 353.2 164.3 353.2 200.0 353.2C235.7 353.2 272.5 353.2 290.0 353.2C307.5 353.2 300.4 353.2 305.0 353.3C309.6 353.4 313.8 353.0 317.5 354.0C321.2 355.0 324.6 357.0 327.5 359.1C330.4 361.2 332.6 363.5 334.8 366.7C337.0 369.9 338.7 373.3 340.6 378.2C342.6 383.1 344.3 389.6 346.5 396.0C348.7 402.4 351.5 409.4 354.0 416.4C356.5 423.4 359.0 430.6 361.5 438.0C364.0 445.4 366.6 453.3 369.2 461.0C371.8 468.7 374.2 476.2 376.8 484.0C379.4 491.8 382.3 501.0 384.5 508.0C386.7 515.0 388.0 520.0 390.0 526.0C392.0 532.0 394.6 538.4 396.4 543.8C398.2 549.2 399.3 553.5 400.7 558.3C402.1 563.1 403.5 568.0 404.6 572.8C405.7 577.6 406.6 582.4 407.5 587.2C408.4 592.0 409.4 596.9 410.2 601.7C411.0 606.5 411.6 611.8 412.4 616.2C413.2 620.6 414.0 624.7 415.0 628.3C416.0 631.9 417.0 634.7 418.3 637.9C419.6 641.1 421.1 644.6 422.7 647.6C424.3 650.6 426.1 653.2 428.0 656.0C429.9 658.8 432.1 661.9 434.3 664.5C436.5 667.1 438.7 669.5 441.0 671.7C443.3 673.9 445.9 676.2 448.3 677.8C450.7 679.4 452.9 680.6 455.5 681.4C458.1 682.2 462.6 682.3 464.0 682.5" fill="none" stroke="#d00000" stroke-width="6.4" stroke-linecap="butt" stroke-linejoin="round"/>
<circle cx="75.4" cy="353.3" r="2.9" fill="#1068b8"/>
<circle cx="86.7" cy="353.3" r="2.9" fill="#1068b8"/>
<circle cx="98.8" cy="353.3" r="2.9" fill="#1068b8"/>
<circle cx="110.8" cy="353.3" r="2.9" fill="#1068b8"/>
<circle cx="122.9" cy="353.3" r="2.9" fill="#1068b8"/>
<circle cx="134.9" cy="353.3" r="2.9" fill="#1068b8"/>
<circle cx="147.3" cy="353.3" r="2.9" fill="#1068b8"/>
<circle cx="157.5" cy="353.3" r="2.9" fill="#1068b8"/>
<circle cx="169.6" cy="353.3" r="2.9" fill="#1068b8"/>
<circle cx="181.7" cy="353.3" r="2.9" fill="#1068b8"/>
<circle cx="193.7" cy="353.3" r="2.9" fill="#1068b8"/>
<circle cx="205.8" cy="353.3" r="2.9" fill="#1068b8"/>
<circle cx="217.9" cy="353.3" r="2.9" fill="#1068b8"/>
<circle cx="229.9" cy="353.3" r="2.9" fill="#1068b8"/>
<circle cx="240.4" cy="353.3" r="2.9" fill="#1068b8"/>
<circle cx="252.5" cy="353.3" r="2.9" fill="#1068b8"/>
<circle cx="264.6" cy="353.3" r="2.9" fill="#1068b8"/>
<circle cx="273.6" cy="353.3" r="2.9" fill="#1068b8"/>
<circle cx="283.8" cy="354.0" r="2.9" fill="#1068b8"/>
<circle cx="293.2" cy="354.5" r="2.9" fill="#1068b8"/>
<circle cx="302.4" cy="356.0" r="2.9" fill="#1068b8"/>
<circle cx="311.6" cy="358.6" r="2.9" fill="#1068b8"/>
<circle cx="320.3" cy="364.5" r="2.9" fill="#1068b8"/>
<circle cx="323.4" cy="367.0" r="2.9" fill="#1068b8"/>
<circle cx="330.0" cy="375.0" r="2.9" fill="#1068b8"/>
<circle cx="336.0" cy="385.3" r="2.9" fill="#1068b8"/>
<circle cx="340.6" cy="395.5" r="2.9" fill="#1068b8"/>
<circle cx="345.2" cy="406.7" r="2.9" fill="#1068b8"/>
<circle cx="348.8" cy="415.6" r="2.9" fill="#1068b8"/>
<circle cx="352.6" cy="426.6" r="2.9" fill="#1068b8"/>
<circle cx="357.0" cy="437.5" r="2.9" fill="#1068b8"/>
<circle cx="361.0" cy="448.8" r="2.9" fill="#1068b8"/>
<circle cx="364.8" cy="459.7" r="2.9" fill="#1068b8"/>
<circle cx="368.9" cy="472.0" r="2.9" fill="#1068b8"/>
<circle cx="373.0" cy="483.0" r="2.9" fill="#1068b8"/>
<circle cx="376.8" cy="494.3" r="2.9" fill="#1068b8"/>
<circle cx="380.6" cy="505.6" r="2.9" fill="#1068b8"/>
<circle cx="384.4" cy="517.0" r="2.9" fill="#1068b8"/>
<circle cx="387.9" cy="528.3" r="2.9" fill="#1068b8"/>
<circle cx="391.3" cy="539.0" r="2.9" fill="#1068b8"/>
<circle cx="395.2" cy="550.5" r="2.9" fill="#1068b8"/>
<circle cx="399.0" cy="562.6" r="2.9" fill="#1068b8"/>
<circle cx="401.9" cy="574.2" r="2.9" fill="#1068b8"/>
<circle cx="404.8" cy="586.0" r="2.9" fill="#1068b8"/>
<circle cx="406.3" cy="589.7" r="2.9" fill="#1068b8"/>
<circle cx="409.6" cy="601.7" r="2.9" fill="#1068b8"/>
<circle cx="411.8" cy="614.3" r="2.9" fill="#1068b8"/>
<circle cx="414.2" cy="625.4" r="2.9" fill="#1068b8"/>
<circle cx="417.3" cy="636.0" r="2.9" fill="#1068b8"/>
<circle cx="421.8" cy="647.1" r="2.9" fill="#1068b8"/>
<circle cx="427.2" cy="656.0" r="2.9" fill="#1068b8"/>
<circle cx="433.3" cy="663.8" r="2.9" fill="#1068b8"/>
<circle cx="440.3" cy="671.2" r="2.9" fill="#1068b8"/>
<circle cx="448.0" cy="677.8" r="2.9" fill="#1068b8"/>
<circle cx="456.5" cy="681.9" r="2.9" fill="#1068b8"/>
</g>
<rect x="103.2" y="601" width="242.3" height="47.2" rx="1" fill="#f7f7f7" stroke="#868686" stroke-width="1.1"/>
<line x1="110.5" x2="146" y1="614" y2="614" stroke="#d00000" stroke-width="6.4" stroke-linecap="round"/>
<circle cx="109.6" cy="636.1" r="2.95" fill="#1068b8"/>
<circle cx="121.8" cy="636.1" r="2.95" fill="#1068b8"/>
<circle cx="133.9" cy="636.1" r="2.95" fill="#1068b8"/>
<circle cx="146.3" cy="636.1" r="2.95" fill="#1068b8"/>
<text x="152" y="619.7" class="t" font-size="18.05">Target (Manual contour)</text>
<text x="152" y="642" class="t" font-size="18.05">Target (Auto contour)</text>
<text x="74.5" y="705" class="t" font-size="18.7" text-anchor="middle">0</text>
<text x="133.8" y="705" class="t" font-size="18.7" text-anchor="middle">5</text>
<text x="193.0" y="705" class="t" font-size="18.7" text-anchor="middle">10</text>
<text x="252.2" y="705" class="t" font-size="18.7" text-anchor="middle">15</text>
<text x="311.5" y="705" class="t" font-size="18.7" text-anchor="middle">20</text>
<text x="370.8" y="705" class="t" font-size="18.7" text-anchor="middle">25</text>
<text x="430.0" y="705" class="t" font-size="18.7" text-anchor="middle">30</text>
<text x="67.2" y="689.0" class="t" font-size="18.7" text-anchor="end">0.0</text>
<text x="67.2" y="623.0" class="t" font-size="18.7" text-anchor="end">0.2</text>
<text x="67.2" y="557.0" class="t" font-size="18.7" text-anchor="end">0.4</text>
<text x="67.2" y="491.0" class="t" font-size="18.7" text-anchor="end">0.6</text>
<text x="67.2" y="425.0" class="t" font-size="18.7" text-anchor="end">0.8</text>
<text x="67.2" y="359.0" class="t" font-size="18.7" text-anchor="end">1.0</text>
<text x="270" y="736.7" class="t" font-size="24.4" text-anchor="middle">Dose (Gy)</text>
<text transform="translate(31.1,506) rotate(-90)" class="t" font-size="22.3" text-anchor="middle">Relative volume (%)</text>
<rect x="538.5" y="352" width="388.5" height="329" fill="#f2f2f2"/>
<line x1="538.5" x2="927" y1="649.8" y2="649.8" stroke="#b4b4b4" stroke-width="1.2"/>
<line x1="538.5" x2="927" y1="583.2" y2="583.2" stroke="#b4b4b4" stroke-width="1.2"/>
<line x1="538.5" x2="927" y1="516.6" y2="516.6" stroke="#b4b4b4" stroke-width="1.2"/>
<line x1="538.5" x2="927" y1="450.0" y2="450.0" stroke="#b4b4b4" stroke-width="1.2"/>
<line x1="538.5" x2="927" y1="383.4" y2="383.4" stroke="#b4b4b4" stroke-width="1.2"/>
<rect x="539.8" y="352.8" width="385.7" height="327.5" fill="none" stroke="#fbfbfb" stroke-width="1.6"/><rect x="537.4" y="350.4" width="390.5" height="332.3" fill="none" stroke="#000" stroke-width="3"/>
<line x1="538.9" x2="543.9" y1="649.8" y2="649.8" stroke="#000" stroke-width="2.4"/>
<line x1="538.9" x2="541.1" y1="616.5" y2="616.5" stroke="#000" stroke-width="2.4"/>
<line x1="538.9" x2="543.9" y1="583.2" y2="583.2" stroke="#000" stroke-width="2.4"/>
<line x1="538.9" x2="541.1" y1="549.9" y2="549.9" stroke="#000" stroke-width="2.4"/>
<line x1="538.9" x2="543.9" y1="516.6" y2="516.6" stroke="#000" stroke-width="2.4"/>
<line x1="538.9" x2="541.1" y1="483.3" y2="483.3" stroke="#000" stroke-width="2.4"/>
<line x1="538.9" x2="543.9" y1="450.0" y2="450.0" stroke="#000" stroke-width="2.4"/>
<line x1="538.9" x2="541.1" y1="416.7" y2="416.7" stroke="#000" stroke-width="2.4"/>
<line x1="538.9" x2="543.9" y1="383.4" y2="383.4" stroke="#000" stroke-width="2.4"/>
<path d="M585.7 457.6C586.1 457.6 586.5 464.4 586.8 467.9C587.1 471.4 587.0 475.4 587.4 478.6C587.9 481.8 588.5 484.7 589.6 487.2C590.6 489.7 591.5 491.5 593.6 493.6C595.8 495.8 599.8 498.3 602.2 500.1C604.7 501.9 606.4 502.9 608.2 504.4C610.0 505.8 611.8 507.3 613.0 508.7C614.1 510.0 615.1 511.3 615.1 512.5C615.1 513.8 614.7 514.9 613.0 516.2C611.2 517.5 607.2 519.0 604.4 520.5C601.6 521.9 598.4 523.3 596.2 524.8C594.0 526.2 592.3 527.4 591.1 529.1C589.8 530.7 589.4 532.1 588.9 534.4C588.5 536.7 588.5 540.5 588.3 543.0C588.1 545.5 588.1 546.9 587.6 549.4C587.2 551.9 586.3 558.0 585.7 558.0C585.1 558.0 584.2 551.9 583.8 549.4C583.3 546.9 583.3 545.5 583.1 543.0C582.9 540.5 582.9 536.7 582.5 534.4C582.0 532.1 581.6 530.7 580.3 529.1C579.1 527.4 577.4 526.2 575.2 524.8C573.0 523.3 569.8 521.9 567.0 520.5C564.2 519.0 560.2 517.5 558.4 516.2C556.7 514.9 556.3 513.8 556.3 512.5C556.3 511.3 557.3 510.0 558.4 508.7C559.6 507.3 561.4 505.8 563.2 504.4C565.0 502.9 566.7 501.9 569.2 500.1C571.6 498.3 575.6 495.8 577.8 493.6C579.9 491.5 580.8 489.7 581.8 487.2C582.9 484.7 583.5 481.8 584.0 478.6C584.4 475.4 584.3 471.4 584.6 467.9C584.9 464.4 585.3 457.6 585.7 457.6Z" fill="#a8434f" stroke="#1a1a1a" stroke-width="1.3" stroke-linejoin="round"/>
<line x1="585.7" x2="585.7" y1="496.2" y2="531.8" stroke="#333" stroke-width="1.4"/>
<rect x="584.1" y="507" width="3.2" height="10" fill="#333"/>
<circle cx="585.7" cy="513" r="2.6" fill="#fff" stroke="#333" stroke-width="0.6"/>
<path d="M683.3 499.7C683.7 499.7 684.2 502.9 684.6 504.4C684.9 505.9 684.8 507.4 685.4 508.7C686.1 509.9 686.9 511.0 688.7 511.9C690.5 512.8 693.1 513.4 696.2 514.0C699.2 514.6 704.0 515.2 706.9 515.5C709.8 515.9 713.3 515.9 713.3 516.2C713.3 516.5 710.1 516.8 706.9 517.3C703.7 517.7 697.2 518.3 694.0 519.0C690.9 519.6 689.3 520.3 688.0 521.1C686.7 521.9 686.7 522.9 686.3 523.7C685.9 524.5 685.9 525.1 685.4 525.8C684.9 526.6 684.0 528.4 683.3 528.4C682.6 528.4 681.7 526.6 681.2 525.8C680.7 525.1 680.7 524.5 680.3 523.7C679.9 522.9 679.9 521.9 678.6 521.1C677.3 520.3 675.7 519.6 672.6 519.0C669.4 518.3 662.9 517.7 659.7 517.3C656.5 516.8 653.3 516.5 653.3 516.2C653.3 515.9 656.8 515.9 659.7 515.5C662.6 515.2 667.4 514.6 670.4 514.0C673.5 513.4 676.1 512.8 677.9 511.9C679.7 511.0 680.5 509.9 681.2 508.7C681.8 507.4 681.7 505.9 682.0 504.4C682.4 502.9 682.9 499.7 683.3 499.7Z" fill="#56697a" stroke="#1a1a1a" stroke-width="1.3" stroke-linejoin="round"/>
<circle cx="683.3" cy="516.6" r="2.6" fill="#fff" stroke="#333" stroke-width="0.6"/>
<path d="M781.4 419.6C781.6 419.6 781.7 427.8 781.9 432.3C782.0 436.7 782.0 442.6 782.1 446.3C782.3 450.1 782.3 452.0 782.7 454.8C783.1 457.6 783.3 460.4 784.7 463.2C786.1 466.1 788.8 468.9 791.2 471.7C793.5 474.5 796.5 477.3 798.8 480.1C801.0 483.0 802.9 485.8 804.7 488.6C806.5 491.4 808.4 494.5 809.5 497.0C810.5 499.6 811.2 501.7 811.2 504.1C811.2 506.4 810.7 508.5 809.5 511.1C808.2 513.7 805.8 516.8 803.8 519.6C801.9 522.4 799.5 525.2 797.6 528.0C795.8 530.8 794.1 533.7 792.6 536.5C791.0 539.3 789.4 542.1 788.3 544.9C787.3 547.7 786.7 550.1 786.1 553.4C785.5 556.7 785.3 560.9 785.0 564.6C784.6 568.4 784.4 572.9 784.1 575.9C783.8 579.0 783.5 581.6 783.0 583.0C782.5 584.3 781.9 584.1 781.3 584.1C780.7 584.1 780.1 584.3 779.6 583.0C779.1 581.6 778.8 579.0 778.5 575.9C778.2 572.9 778.0 568.4 777.6 564.6C777.3 560.9 777.1 556.7 776.5 553.4C775.9 550.1 775.3 547.7 774.3 544.9C773.2 542.1 771.6 539.3 770.0 536.5C768.5 533.7 766.8 530.8 765.0 528.0C763.1 525.2 760.7 522.4 758.8 519.6C756.8 516.8 754.4 513.7 753.1 511.1C751.9 508.5 751.4 506.4 751.4 504.1C751.4 501.7 752.1 499.6 753.1 497.0C754.2 494.5 756.1 491.4 757.9 488.6C759.7 485.8 761.6 483.0 763.8 480.1C766.1 477.3 769.1 474.5 771.4 471.7C773.8 468.9 776.5 466.1 777.9 463.2C779.3 460.4 779.5 457.6 779.9 454.8C780.3 452.0 780.3 450.1 780.5 446.3C780.6 442.6 780.6 436.7 780.7 432.3C780.9 427.8 781.3 419.6 781.4 419.6Z" fill="#8e7b82" stroke="#1a1a1a" stroke-width="1.3" stroke-linejoin="round"/>
<line x1="781.3" x2="781.3" y1="476.8" y2="567" stroke="#333" stroke-width="1.4"/>
<rect x="778.8" y="494.2" width="5" height="29.6" fill="#333"/>
<circle cx="781.3" cy="507.5" r="2.6" fill="#fff"/>
<path d="M879.4 409.7C879.9 409.7 880.0 414.4 880.7 418.2C881.4 421.9 882.5 427.6 883.5 432.3C884.6 436.9 885.5 441.6 886.9 446.3C888.3 451.0 890.1 455.7 892.0 460.4C893.9 465.1 896.1 470.3 898.2 474.5C900.3 478.7 903.0 482.5 904.7 485.8C906.3 489.1 907.3 491.9 908.0 494.2C908.7 496.6 908.9 498.0 908.9 499.9C908.9 501.7 908.8 503.1 908.0 505.5C907.2 507.8 905.8 510.7 904.1 513.9C902.4 517.2 899.6 521.5 897.6 525.2C895.6 529.0 893.7 532.7 892.0 536.5C890.2 540.2 888.6 544.0 887.2 547.7C885.8 551.5 884.5 555.3 883.5 559.0C882.5 562.8 881.8 567.0 881.3 570.3C880.7 573.6 880.5 576.4 880.1 578.7C879.8 581.0 879.6 584.1 879.3 584.1C879.0 584.1 878.8 581.0 878.5 578.7C878.1 576.4 877.9 573.6 877.3 570.3C876.8 567.0 876.1 562.8 875.1 559.0C874.1 555.3 872.8 551.5 871.4 547.7C870.0 544.0 868.4 540.2 866.6 536.5C864.9 532.7 863.0 529.0 861.0 525.2C859.0 521.5 856.2 517.2 854.5 513.9C852.8 510.7 851.4 507.8 850.6 505.5C849.8 503.1 849.7 501.7 849.7 499.9C849.7 498.0 849.9 496.6 850.6 494.2C851.3 491.9 852.3 489.1 853.9 485.8C855.6 482.5 858.3 478.7 860.4 474.5C862.5 470.3 864.7 465.1 866.6 460.4C868.5 455.7 870.3 451.0 871.7 446.3C873.1 441.6 874.0 436.9 875.1 432.3C876.1 427.6 877.2 421.9 877.9 418.2C878.6 414.4 879.0 409.7 879.4 409.7Z" fill="#f5dfcb" stroke="#1a1a1a" stroke-width="1.3" stroke-linejoin="round"/>
<line x1="879.3" x2="879.3" y1="434.5" y2="560.4" stroke="#333" stroke-width="1.4"/>
<rect x="876.8" y="482" width="5" height="37" fill="#333"/>
<circle cx="879.3" cy="500.4" r="2.6" fill="#fff"/>
<text x="529.9" y="389.8" class="t" font-size="18.7" text-anchor="end">2.0</text>
<text x="529.9" y="456.4" class="t" font-size="18.7" text-anchor="end">1.0</text>
<text x="529.9" y="523.0" class="t" font-size="18.7" text-anchor="end">0.0</text>
<text x="529.9" y="589.6" class="t" font-size="18.7" text-anchor="end">1.0</text>
<rect x="499.6" y="584.0" width="6.6" height="2.5" fill="#000"/>
<text x="529.9" y="656.2" class="t" font-size="18.7" text-anchor="end">2.0</text>
<rect x="499.6" y="650.6" width="6.6" height="2.5" fill="#000"/>
<text x="585.5" y="707.8" class="t" font-size="22.1" text-anchor="middle">Dmean</text>
<text x="683.0" y="707.8" class="t" font-size="22.1" text-anchor="middle">Dmax</text>
<text x="781.0" y="707.8" class="t" font-size="22.1" text-anchor="middle">D99</text>
<text x="879.0" y="707.8" class="t" font-size="22.1" text-anchor="middle">D95</text>
<text transform="translate(491,516.4) rotate(-90)" class="t" font-size="23.1" text-anchor="middle">Dose difference (Gy)</text>
<text x="6.6" y="28.6" class="t" font-size="35" letter-spacing="0.3">(a)</text>
<text x="482.3" y="30.5" class="t" font-size="35" letter-spacing="0.3">(b)</text>
<text x="5.3" y="353.2" class="t" font-size="35" letter-spacing="0.3">(c)</text>
<text x="482.4" y="354.5" class="t" font-size="35" letter-spacing="0.3">(d)</text>
<text transform="translate(55.8,179.3) rotate(-90)" class="t" font-size="26.6" text-anchor="middle">DTI</text>
<text transform="translate(522.8,177.5) rotate(-90)" class="t" font-size="26.6" text-anchor="middle">MRA</text>
</svg>
</body></html>
